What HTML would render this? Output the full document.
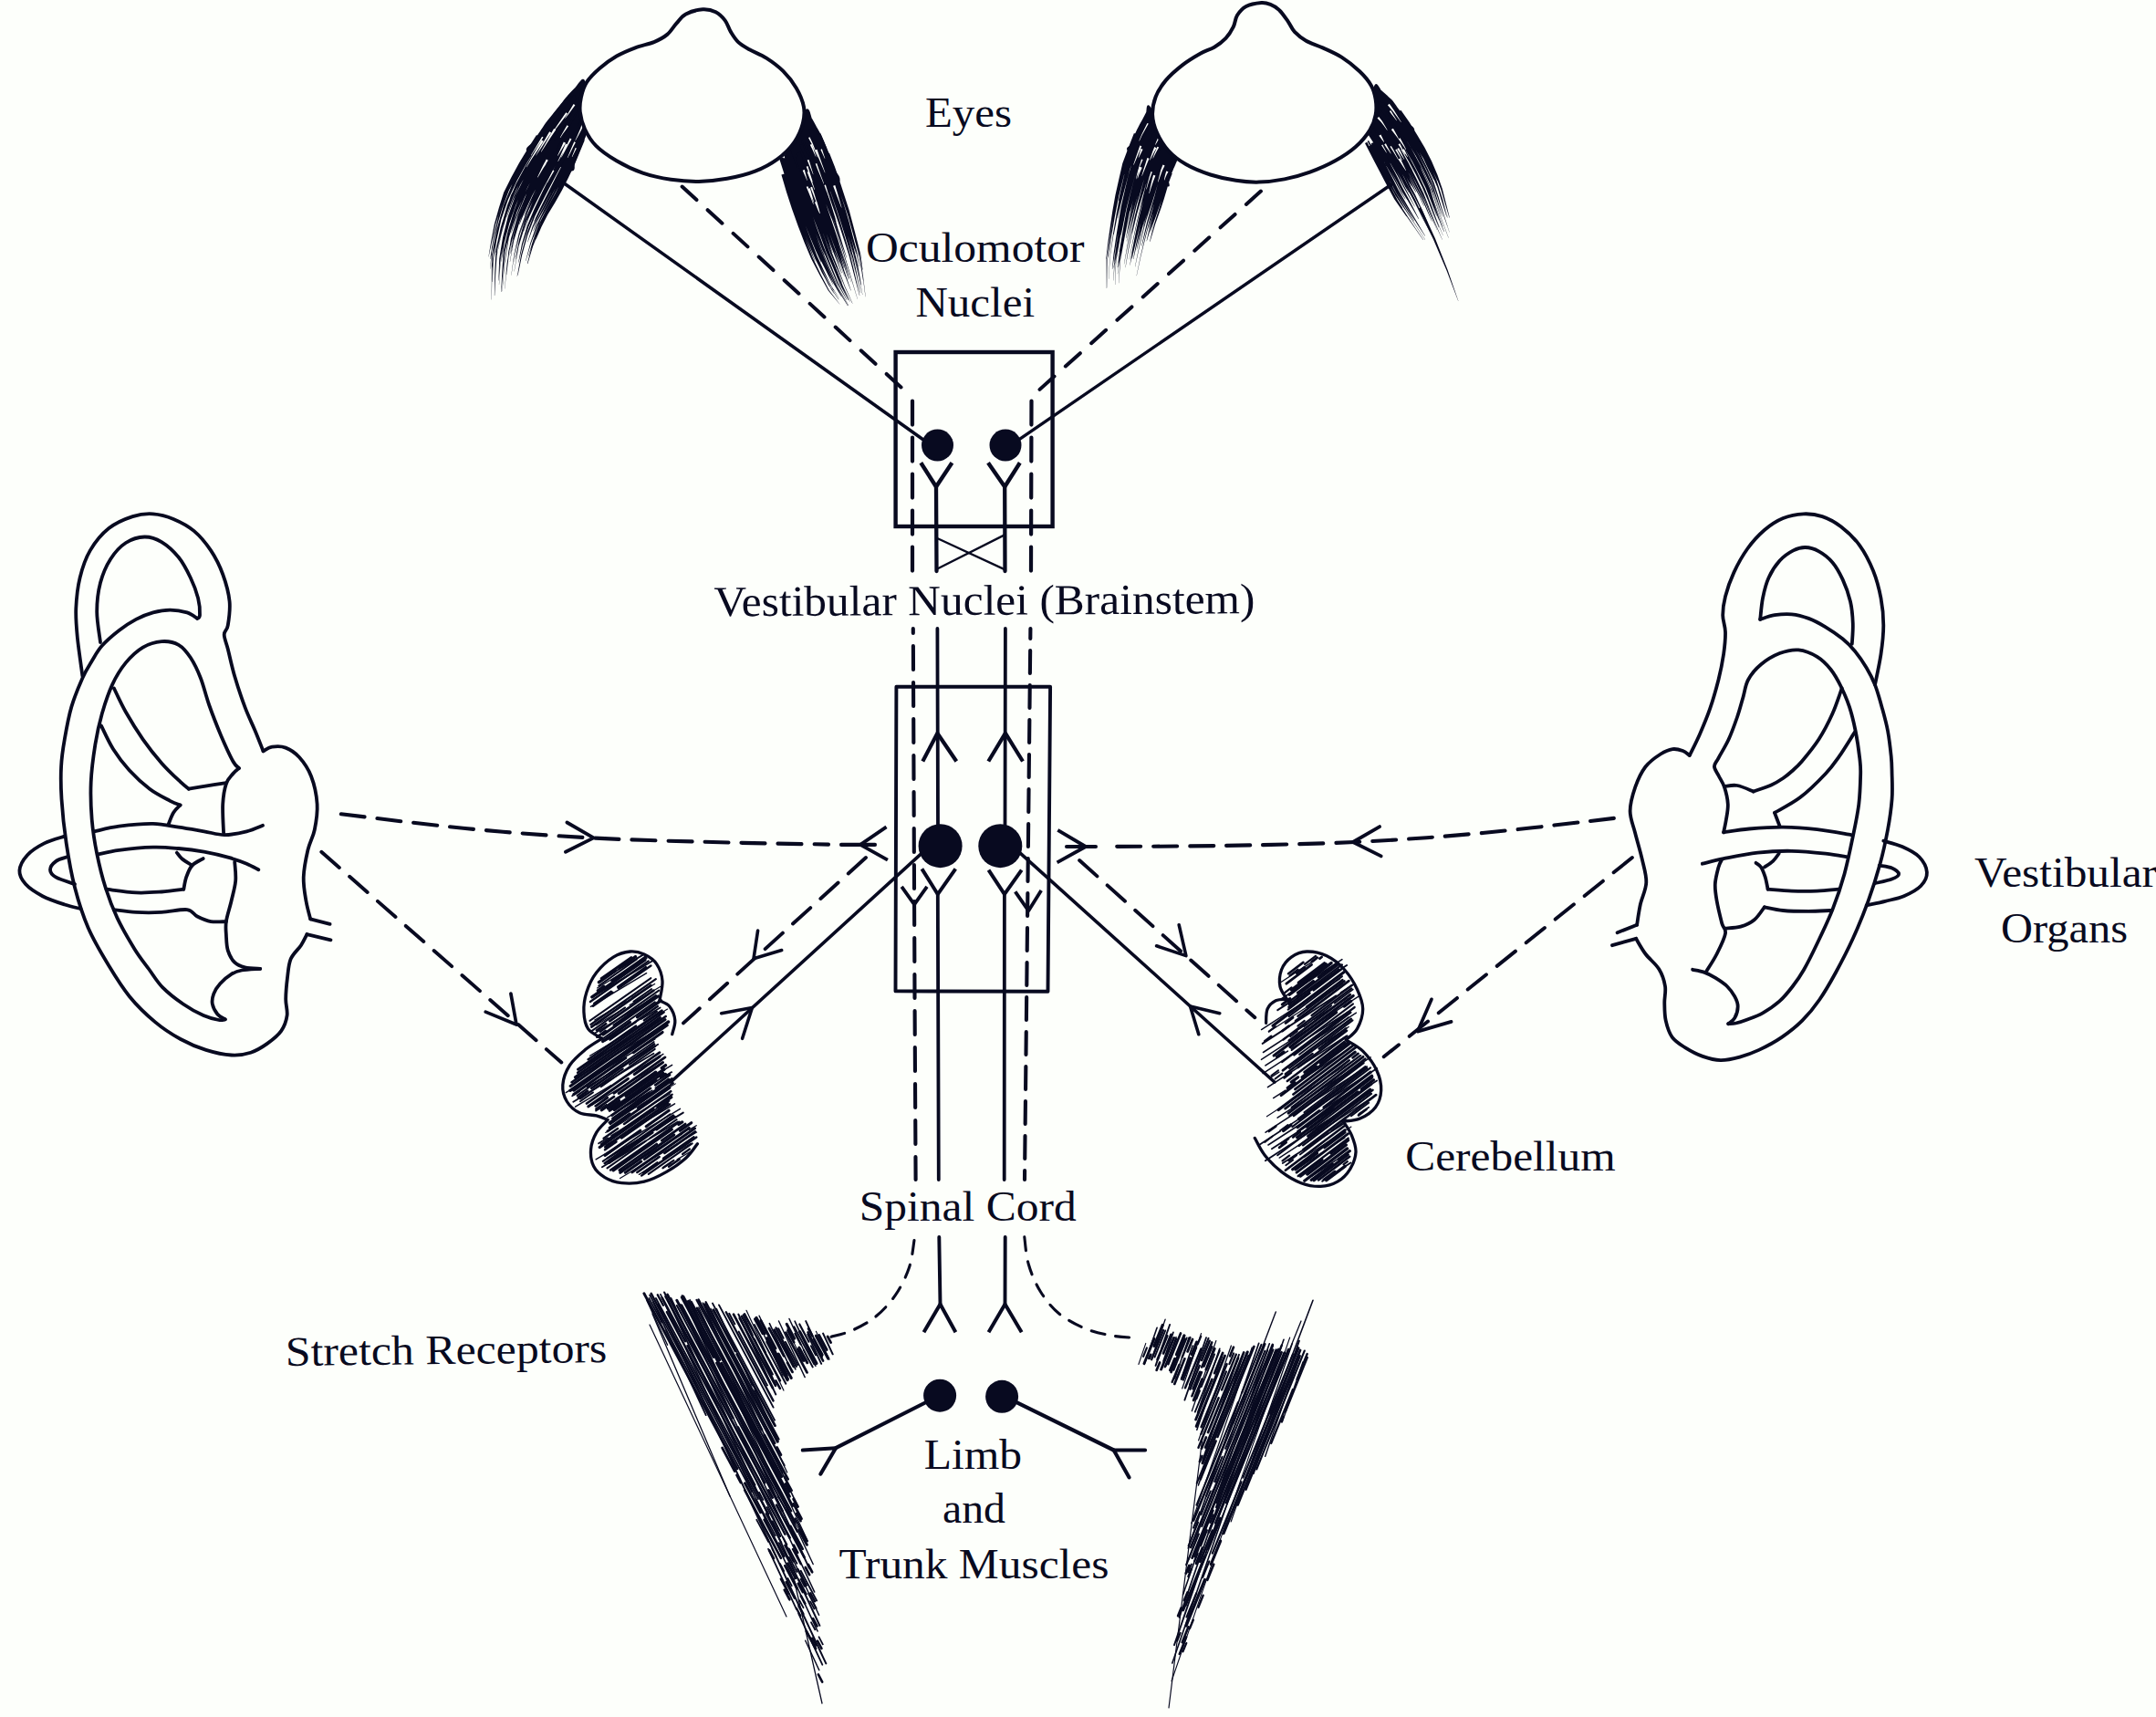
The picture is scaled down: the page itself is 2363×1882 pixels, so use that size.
<!DOCTYPE html>
<html lang="en"><head><meta charset="utf-8"><title>Vestibular pathways</title>
<style>
html,body{margin:0;padding:0;background:#fdfffb;}
body{width:2363px;height:1882px;overflow:hidden;}
svg{display:block;}
</style></head><body>
<svg width="2363" height="1882" viewBox="0 0 2363 1882">
<rect width="2363" height="1882" fill="#fdfffb"/>
<path d="M640 88C638.4 85.1 632.6 94.7 630.9 96.5C629.1 98.2 624 103.7 622.4 105.6C620.8 107.4 616.2 113.3 614.6 115.3C613.1 117.2 608.4 123.1 606.8 125C605.3 126.9 600.5 132.7 599 134.7C597.6 136.7 593.5 143 592.1 145C590.7 147.1 586.7 153.4 585.3 155.5C584 157.6 574.5 162.8 578.5 165.9C582.6 169 620.7 185.3 625.8 186.6C630.8 187.9 628.4 180.6 629 179.1C629.7 177.6 631.5 173.1 632.1 171.5C632.7 170 634.5 165.5 635.2 164C635.8 162.5 637.6 157.9 638.2 156.4C638.8 154.9 640.8 150.4 641.3 148.8C641.8 147.3 642.9 142.5 643.2 140.9C643.6 139.3 644.7 134.5 645.1 133C645.5 131.4 647.5 129.5 647 125C646.5 120.5 641.6 90.9 640 88Z" fill="#080a20" stroke="#080a20" stroke-width="1.5" stroke-linecap="round" stroke-linejoin="round"/>
<path d="M588 148L578.3 163.2L568.9 178.7L560.2 194.7L552.1 210.9L546.7 228.3L541.8 245.7L538.4 263.5L535.4 281.4L535.6 281.4L539.4 263.7L543.2 246.1L548.5 228.8L554.2 211.8L562.5 195.9L571.5 180.3L581.1 165L591.1 150ZM619.9 107.9L604.7 127.4L590.6 147.6L577.3 168.5L565.1 190L553.9 212.1L546.4 235.7L540.9 259.7L537.2 284L537.5 284.1L541.9 259.9L547.9 236.1L555.7 212.8L567.1 191.1L579.6 169.9L593.1 149.4L607.5 129.4L622.8 110.2ZM624.6 104.5L607.5 126.8L591.5 150L576.4 173.9L562.8 198.6L552 224.7L544.4 251.8L538.9 279.4L538.8 307.6L539.1 307.6L539.8 279.6L545.7 252.1L553.7 225.2L564.6 199.5L578.4 175.1L593.7 151.5L610 128.6L627.2 106.5ZM600.6 137.5L588.3 157L576 176.7L564.9 197.1L555.3 218.2L548.1 240.2L543.1 262.9L539.9 285.7L539.6 308.9L539.9 308.9L540.7 285.8L544.3 263.1L549.4 240.6L556.9 218.8L566.6 198L577.9 177.8L590.4 158.4L602.9 138.9ZM603.8 136.8L590.5 158L577.4 179.5L565.4 201.8L556 225.1L548.8 249.2L543.5 273.8L542.3 298.8L541.9 323.9L542.2 323.9L543.3 298.9L545 274L550.8 249.7L558.3 225.9L568 203L580.2 181.2L593.5 159.9L607.1 138.9ZM609.7 130.8L603.6 139.2L598.1 148.1L592.7 157L587.4 165.8L581.9 174.7L576.9 183.8L572.1 193.1L567.3 202.3L567.5 202.4L572.8 193.4L577.9 184.4L583.2 175.5L588.8 166.8L594.4 158L600 149.3L605.6 140.6L611.9 132.4ZM629.4 105.7L618.5 121.1L607.4 136.4L597.2 152.5L587.3 168.8L577.8 185.3L568.8 202.2L561.4 219.6L555.3 237.7L555.6 237.8L562.3 220L570.2 202.8L579.5 186.2L589.3 170L599.4 153.9L609.8 138.1L621.2 123L632.3 107.8ZM612 132.4L599 152.3L586.8 172.7L575.2 193.5L564.7 214.9L556.7 237.4L551 260.4L547.2 283.7L546.4 307.4L546.7 307.4L548.3 283.9L552.5 260.7L558.7 238L567 215.9L577.8 194.9L589.6 174.3L602.1 154.2L615.3 134.6ZM615.7 130.6L603.8 148.4L592.9 166.9L582.1 185.5L571.9 204.5L563.7 224.4L556.9 244.7L551.9 265.6L549.2 286.7L549.5 286.8L552.8 265.8L558.2 245.1L565.3 225L573.8 205.4L584.1 186.7L595.2 168.3L606.3 150L618.4 132.4ZM603.8 151.7L592.5 171.1L581.5 190.8L571 210.8L563.1 231.9L556.7 253.4L551.8 275.3L550.3 297.6L549.2 319.9L549.5 320L551.4 297.7L553.5 275.6L558.8 253.9L565.6 232.8L573.7 212L584.5 192.4L595.8 173L607.4 153.8ZM623.6 124.3L614.8 137.3L606.4 150.6L598.5 164.4L590.5 178L582.9 192L575.5 206L569.3 220.5L563.9 235.4L564.2 235.5L570.1 220.9L576.6 206.5L584.2 192.7L592 178.9L600.2 165.4L608.3 151.8L616.9 138.7L625.9 125.8ZM606.4 153.9L599.6 166L592.6 178.1L586 190.5L579.5 202.9L573.5 215.6L568.5 228.7L563.8 241.8L560.3 255.2L560.6 255.3L564.7 242.1L569.8 229.2L575.1 216.3L581.4 203.9L588.2 191.7L595 179.6L602.3 167.6L609.4 155.6ZM634.4 112.9L621 134.6L607.5 156.7L594.7 179.3L582.4 202.3L571.7 225.9L563.2 250.4L557.3 275.6L554.9 301.3L555.2 301.3L558.2 275.8L564.4 250.7L573.2 226.6L584.1 203.1L596.6 180.3L609.7 158L623.4 136.1L637 114.5ZM605.5 162.7L598.9 174.5L592.3 186.4L586.1 198.5L579.8 210.6L574.6 223.2L569.7 235.7L565.5 248.6L562.2 261.7L562.5 261.8L566.4 248.9L571 236.2L576.3 223.9L581.7 211.5L588.3 199.7L594.8 187.8L601.7 176.1L608.5 164.4ZM611.8 152.7L603.6 167.7L595.2 182.6L587.2 197.8L579.4 213.1L573 228.9L567.1 244.9L562.6 261.4L559.4 278.1L559.7 278.1L563.5 261.6L568.3 245.3L574.5 229.6L581.2 214L589.3 198.9L597.5 183.9L606.1 169.2L614.6 154.3ZM607.5 162.8L602.2 172.9L596.6 183L591.3 193.3L586.1 203.6L581 213.9L576.7 224.6L572.5 235.3L569 246.1L569.3 246.2L573.6 235.7L578.3 225.3L583 214.9L588.5 204.8L594 194.7L599.6 184.7L605.6 174.8L611.3 164.9ZM633.6 122L626.1 135.9L617.8 149.7L610.2 163.9L602.5 178.1L594.8 192.4L587.4 206.8L580.6 221.4L574.4 236.3L574.7 236.4L581.4 221.7L588.4 207.3L596.1 193L604 178.9L611.9 164.9L619.8 150.8L628.2 137.2L636 123.3ZM622.3 145.6L616.7 155.7L611.5 166L606.2 176.3L600.7 186.4L595.5 196.8L590.3 207.2L585.3 217.6L580.9 228.3L581.2 228.4L586.2 218.1L591.6 207.9L597.1 197.7L602.7 187.5L608.5 177.5L614.1 167.4L619.6 157.2L625.4 147.3ZM633.7 125.7L623.7 144.6L613.4 163.8L603.3 183L593.2 202.4L583.7 222.1L575.2 242L568.9 262.9L565 284.1L565.3 284.1L570 263.2L576.8 242.6L585.6 222.9L595.5 203.6L605.8 184.4L616.3 165.3L626.9 146.4L637.2 127.6ZM632.9 131L625 145.9L617 160.9L609.4 176.1L601.3 191.2L593.5 206.5L586.1 221.9L579.2 237.5L573.8 253.6L574 253.7L580 237.8L587.3 222.5L595 207.3L603.1 192.2L611.4 177.2L619.4 162.1L627.6 147.3L635.7 132.5ZM631.8 137L622.2 155L613.2 173.6L603.7 191.8L594.5 210.3L585.6 228.9L577.7 247.8L571.9 267.6L568.2 287.6L568.5 287.7L573 267.9L579.4 248.4L587.7 229.8L597 211.6L606.6 193.4L616.5 175.3L625.9 157L635.8 139.1ZM619 163L613.9 173.8L608.4 184.5L603 195.2L597.7 206L592.3 216.8L587.3 227.7L582.4 238.6L578.5 249.9L578.8 250L583.4 239L588.7 228.4L594.2 217.7L599.9 207.2L605.6 196.6L611.3 186L617.1 175.5L622.6 164.8ZM635.2 134.6L625.3 154.8L615.5 175.3L605.1 195.5L594.7 215.8L584.8 236.2L577 257.6L571.3 279.4L567.3 301.7L567.6 301.8L572.2 279.6L578.2 258L586.3 236.9L596.5 216.7L607.1 196.6L617.8 176.4L627.9 156.1L638.1 136ZM635.2 140.4L629.1 153.1L623 166L617.1 178.9L610.6 191.6L604.2 204.3L597.7 217L591.4 229.8L585.3 242.6L585.6 242.7L592.1 230.1L598.8 217.6L605.5 205L612.1 192.4L618.9 179.8L625.1 166.9L631.3 154.2L637.7 141.6ZM636 138.2L628.8 154L621.5 169.8L614 185.6L606.2 201.3L598.2 216.9L590.4 232.5L583.5 248.6L578.2 265.2L578.5 265.3L584.5 249L591.8 233.2L600 217.9L608.3 202.4L616.5 186.9L624.4 171.2L632 155.5L639.5 139.9ZM622.7 171.6L618.1 181.9L613.1 191.9L608.2 202.1L603.2 212.3L598 222.2L592.8 232.3L587.9 242.4L584.3 253.2L584.6 253.3L588.8 242.8L594.2 233L599.7 223.2L605.2 213.3L610.5 203.3L615.8 193.3L621.2 183.3L626 173.1ZM639.2 138.6L631.8 157.1L623.8 175.5L615.1 193.7L606.2 211.8L596.5 229.4L587.8 247.6L581.2 266.6L576.1 286L576.4 286.1L582 266.8L589 248L597.9 230.2L607.8 212.6L617 194.6L626 176.6L634.3 158.2L641.9 139.7ZM639.3 143.1L632.3 160.5L625.1 177.9L617 194.9L608.8 211.8L599.6 228.2L591 245L584.4 262.7L579.1 280.7L579.4 280.8L585.2 262.9L592.1 245.5L601 229L610.5 212.7L619 195.8L627.4 178.9L634.9 161.6L642.1 144.2ZM639.9 141.5L633 160.3L625.6 178.8L617.1 196.9L608.3 214.8L598.4 232.3L589.9 250.5L583 269.4L577.9 288.8L578.2 288.9L584.2 269.8L591.6 251.2L600.5 233.4L610.9 216.2L620.2 198.4L629.1 180.3L637 161.8L644.2 143.1ZM638.3 152.5L632.7 166.7L627.1 180.8L620.7 194.5L614.1 208.2L606.9 221.5L599.2 234.6L592.7 248.3L587.2 262.5L587.5 262.6L593.4 248.7L600.3 235.2L608.2 222.2L615.7 209L622.6 195.4L629.2 181.7L635.1 167.6L640.9 153.6ZM581.2 163.6L569.3 183.6L558 204.2L550 226.1L543.6 248.6L538.9 271.5L537.3 294.7L537.5 294.7L539.4 271.6L544.4 248.8L551 226.5L559.3 204.8L570.7 184.5L582.9 164.6ZM597.1 159.1L583.2 182.5L570.2 206.6L560.3 232L552.9 258.1L548.3 284.9L546.9 312L547.1 312L548.7 284.9L553.5 258.3L561.1 232.3L571.2 207.1L584.3 183.2L598.5 159.9ZM598 150L585.7 170.1L574 190.6L563 211.5L555.3 233.8L549.2 256.5L544.6 279.5L544.8 279.6L549.6 256.6L555.9 234L563.8 211.9L574.9 191.1L586.8 170.8L599.3 150.8ZM609.2 168.2L597.7 189.2L586.5 210.6L576.8 232.4L568.9 254.9L563.5 278.1L560.3 301.7L560.5 301.7L563.9 278.2L569.6 255.1L577.6 232.7L587.5 211L598.8 189.9L610.5 168.9ZM639.6 141.9L631.3 161.9L622.8 181.9L613.1 201.4L603 220.7L592.5 239.8L584.6 260L584.8 260.1L592.9 239.9L603.5 221L613.8 201.8L623.8 182.4L632.5 162.4L641 142.5ZM633.4 116.7L617.9 142.2L602.8 168.3L588.1 194.8L574.9 222.1L564.6 250.4L558 279.7L558.2 279.7L565 250.5L575.5 222.3L588.9 195.3L603.8 168.9L619.1 142.9L634.8 117.5ZM633.3 125.4L619 151L605.1 177.1L591.1 203.4L578.5 230.2L568.7 258.1L562.9 286.9L563.1 286.9L569.2 258.2L579.3 230.6L592.1 203.9L606.4 177.8L620.5 151.8L635.2 126.5ZM631.6 167.9L622.9 188.3L613.2 208.2L602.5 227.6L592.2 247.2L584.2 267.9L578.1 289.2L578.3 289.3L584.7 268.1L592.9 247.5L603.3 228L614.4 208.8L624.4 188.9L633.3 168.6ZM629.2 103.9L609.7 129.9L591.7 157L574.9 185L560 214.1L550 245.1L542.9 276.9L543.1 276.9L550.5 245.2L560.8 214.4L575.9 185.6L592.9 157.8L611.2 130.9L630.8 105.2ZM612 177.9L604.5 192L597.3 206.3L590.2 220.5L583.4 234.9L577.7 249.7L572.9 264.9L573.1 265L578.1 249.9L584.1 235.3L591.1 221L598.5 206.9L605.9 192.7L613.6 178.7ZM609.7 158.6L598.4 178.9L587.5 199.5L577.4 220.5L568.8 242.1L562.5 264.4L558.8 287.1L559 287.2L563 264.5L569.7 242.4L578.5 221L588.8 200.2L600.1 179.8L611.6 159.7ZM601.8 135.1L583.1 164.3L565.6 194.3L552 226.2L543.1 259.7L539 293.9L538.6 328.6L538.8 328.6L539.5 294L544 259.8L553.1 226.5L567 195L584.6 165.2L603.6 136.3ZM620.8 163.8L609.6 186.2L598.1 208.7L587 231.1L577.8 254.4L571.3 278.5L566.7 303L566.9 303.1L571.8 278.6L578.5 254.7L588 231.6L599.5 209.3L611.2 187L622.7 164.7ZM606.2 152.2L591.2 178L577 204.4L565.5 231.9L557 260.4L552.5 289.6L550.4 319.2L550.6 319.2L553 289.7L557.8 260.6L566.5 232.3L578.3 205L592.7 178.9L608 153.3ZM605.1 160.8L591.3 184.9L578.3 209.6L567.8 235.3L559.9 261.8L555.6 289L553.1 316.5L553.3 316.5L556 289L560.6 262L568.7 235.6L579.4 210.1L592.7 185.7L606.7 161.7ZM626.9 142L613.5 166.8L600.3 191.8L587.4 217L576.1 242.8L568.1 269.8L563.5 297.4L563.7 297.5L568.5 269.9L576.8 243.1L588.3 217.5L601.4 192.4L614.9 167.6L628.5 142.9Z" fill="#080a20"/>
<path d="M593.7 153.5L588 163.3L582.3 173L576.9 183L577.2 183.2L583.2 173.6L589.5 164.2L595.8 154.8ZM624.7 151.6L621.4 158.4L618.2 165.4L615.1 172.3L615.4 172.5L619.1 165.8L622.7 159.1L626.5 152.6ZM598.8 174.6L596.8 178.6L594.9 182.5L593 186.6L593.4 186.8L595.8 183.1L598.3 179.4L600.8 175.8ZM594.1 149.7L590.1 156.5L586.1 163.3L582 170L582.4 170.2L586.8 163.7L591.1 157.2L595.5 150.6ZM620 157.5L617.1 164L614.3 170.4L611.4 176.8L611.8 177L615.2 170.9L618.7 164.8L622.2 158.7ZM628.6 113.9L625.5 119.2L622.4 124.4L619.2 129.5L619.5 129.7L623.3 124.9L626.9 120L630.4 115.2ZM620.3 123.2L614.5 131.7L608.7 140.2L603.4 149.1L603.8 149.3L609.6 140.8L615.8 132.7L622 124.5ZM596.8 178.3L594.1 183.6L591.5 188.9L589 194.3L589.4 194.5L592.4 189.4L595.5 184.3L598.7 179.4ZM607.1 141L602.3 149.3L597.6 157.7L592.9 166.2L593.3 166.4L598.6 158.3L603.8 150.2L609.2 142.3ZM629.3 155.3L626.8 161.1L624.3 167L621.8 172.9L622.2 173.1L625.1 167.4L627.9 161.7L630.9 156ZM602.2 144.2L597.2 152.9L592.2 161.6L587.2 170.4L587.5 170.6L593.1 162.2L598.7 153.8L604.2 145.4ZM606 186.5L603.8 191.1L601.6 195.7L599.5 200.3L599.8 200.5L602.3 196.1L604.9 191.6L607.4 187.2ZM621.5 137.2L618.9 141.7L616.3 146.2L613.8 150.7L614.2 150.9L617.1 146.6L620.1 142.4L623.1 138.2ZM617.8 155.6L615.6 160.6L613.4 165.6L611.1 170.6L611.5 170.8L614.3 166.1L617.1 161.4L620 156.7ZM630.6 161.9L629.4 165.2L628.1 168.5L626.8 171.8L627.2 172L628.8 168.8L630.4 165.6L631.9 162.5ZM638.2 134.5L636.1 141.1L633.3 147.5L630.4 153.9L630.8 154.1L634.2 147.9L637.5 141.7L640.1 135.2Z" fill="#fdfffb"/>
<path d="M883.9 120.3C886.7 117.8 888.1 127.9 889.1 129.8C890.2 131.7 893.3 137.4 894.3 139.3C895.4 141.2 898.6 146.8 899.5 148.7C900.5 150.7 903 156.7 903.8 158.7C904.6 160.7 907 166.7 907.8 168.7C908.6 170.7 911 176.7 911.8 178.8C912.6 180.8 915.1 186.8 915.8 188.8C916.6 190.8 922.1 195.1 919.2 199.1C916.4 203 890.7 226.1 887.2 228.1C883.7 230.1 884.7 220.7 884.1 218.9C883.5 217.1 881.4 211.6 880.8 209.8C880.2 208 878.3 202.5 877.7 200.6C877 198.8 875.3 193.2 874.7 191.4C874.1 189.6 872.2 184 871.6 182.2C871 180.4 868.9 175 868.3 173.2C867.6 171.4 865.6 165.9 864.9 164.1C864.2 162.3 859.7 159.5 861.6 155.1C863.5 150.7 881.1 122.8 883.9 120.3Z" fill="#080a20" stroke="#080a20" stroke-width="1.5" stroke-linecap="round" stroke-linejoin="round"/>
<path d="M906.2 168.6L912.5 184L918.2 199.6L923.5 215.4L928.9 231.1L933.5 247.1L938 263.2L942.5 279.2L945.2 295.7L945.5 295.6L943.3 279.1L939.2 262.9L935 246.7L930.7 230.6L925.6 214.7L920.4 198.8L915 183L908.9 167.5ZM895.4 148.1L902.1 162.8L908.3 177.7L914.3 192.8L919.6 208.1L925 223.4L930.1 238.7L934.6 254.3L939.3 269.9L939.6 269.8L935.7 254L931.8 238.3L927.1 222.7L922.2 207.2L917.3 191.7L911.6 176.4L905.8 161.2L899.4 146.3ZM900.3 165.9L906.6 181.3L912.6 196.8L918.1 212.6L923.6 228.3L928.7 244.2L933.3 260.2L938.1 276.1L941.8 292.3L942.1 292.2L939.1 275.8L934.9 259.7L930.7 243.6L926 227.5L920.9 211.6L915.8 195.7L910 180L904.1 164.4ZM889.5 145.5L897.3 161.3L903.9 177.6L910.6 194L916.4 210.7L922.3 227.4L927.8 244.2L932.8 261.1L938.1 278L938.4 277.9L934 260.8L929.5 243.7L924.5 226.7L919.1 209.8L913.7 192.9L907.4 176.3L901.1 159.6L893.7 143.5ZM886.2 142.3L896.2 162.3L904.5 183.2L912.4 204.2L919.7 225.5L926.7 246.9L933.1 268.4L938.9 290.1L943.6 311.9L943.9 311.8L940 289.8L934.7 268L928.8 246.3L922.2 224.7L915.2 203.2L907.6 182L899.6 160.8L889.9 140.5ZM903.3 185.4L907.8 196.6L911.7 207.9L915.6 219.4L919.6 230.7L923.5 242.1L927 253.7L930.5 265.2L934.2 276.6L934.5 276.6L931.3 265L928.1 253.4L924.9 241.7L921.2 230.2L917.5 218.7L913.8 207.3L910.1 195.7L905.8 184.4ZM895.1 168.2L902.4 186.9L909.4 205.7L915.9 224.8L922.4 243.8L928.1 263L934.1 282.1L938.6 301.5L943 320.7L943.3 320.7L939.4 301.4L935.3 281.8L929.6 262.6L924.1 243.2L917.8 224.1L911.6 205L904.8 186L897.7 167.2ZM883.1 149.9L892.6 170.9L900.9 192.4L908.8 214.2L916.4 236.1L923.4 258.1L930.5 280L936.3 302.2L942 324.1L942.3 324L937.3 302L931.9 279.6L925.2 257.5L918.5 235.4L911.2 213.4L903.6 191.4L895.5 169.7L886.3 148.5ZM894.5 177.5L899 189L903.6 200.5L907.7 212.1L911.7 223.8L915.9 235.5L919.9 247.2L923.7 258.9L927.6 270.7L927.9 270.6L924.5 258.7L921.1 246.8L917.4 235L913.5 223.2L909.7 211.4L905.9 199.6L901.6 188L897.3 176.4ZM882 156L887.1 166.5L891.4 177.4L895.7 188.4L900.2 199.3L904.2 210.4L908.2 221.5L912.3 232.6L916.7 243.6L916.9 243.5L913.4 232.2L909.9 220.9L906.4 209.6L902.7 198.4L898.7 187.3L894.8 176.1L890.8 164.9L886 154.1ZM890.7 179.5L895.6 192.3L900.6 205L905.1 217.9L909.6 230.9L914.4 243.7L918.7 256.7L923 269.7L927.7 282.5L928 282.4L924 269.4L920.1 256.3L916.2 243.1L911.8 230.1L907.6 217.1L903.4 204L898.7 191.1L894.1 178.2ZM891.4 188.2L894.2 194.9L897 201.7L899.6 208.5L902.2 215.4L904.8 222.2L907.4 229.1L910.1 235.9L913 242.7L913.3 242.6L911.2 235.5L909.1 228.5L907.1 221.5L905 214.4L902.8 207.4L900.6 200.4L898.2 193.4L895.8 186.5ZM882.8 170.2L889 187.1L895.4 203.8L901.4 220.7L907.4 237.7L913.4 254.6L919.1 271.6L925.3 288.3L930.6 305.2L930.9 305.1L926.2 288L920.4 271.1L915.1 254L909.4 237L903.7 219.9L898.1 202.9L891.9 186L886 169.1ZM876.4 158.9L884.1 177L890.8 195.4L897.7 213.9L904.1 232.5L910.9 251L917.1 269.7L924 288.1L929.9 306.5L930.2 306.5L924.8 287.8L918.3 269.3L912.5 250.5L906 231.9L899.9 213.1L893.3 194.5L886.7 175.9L879.3 157.7ZM889.3 196.8L894 208.8L898.3 221L902.6 233.3L907.2 245.4L911.5 257.6L915.7 269.9L920.4 281.9L925 293.9L925.3 293.8L921.4 281.6L917.2 269.4L913.4 257L909.4 244.7L905.2 232.4L901.2 220.1L897.2 207.7L892.8 195.5ZM881.1 177.6L887.5 195.4L894.2 213L900.4 230.8L906.9 248.5L913 266.3L919.6 283.9L925.8 301.5L932.5 318.6L932.8 318.5L926.8 301.2L921 283.4L914.9 265.7L909.1 247.8L902.9 229.9L897.1 212L890.7 194.2L884.6 176.4ZM878.5 177.3L883.6 191.2L888.8 205.1L894 219.1L898.9 233.1L904.2 247L909.3 260.9L914.3 274.9L920 288.5L920.3 288.4L915.4 274.5L910.9 260.4L906.2 246.3L901.4 232.2L896.9 218.1L892.1 204L887.3 189.9L882.6 175.9ZM873.1 167.9L879.5 184.2L885.5 200.7L891.6 217.2L897.5 233.8L903.7 250.3L909.6 266.8L916 283.2L922.4 299.4L922.7 299.3L917 282.8L911.2 266.3L905.7 249.6L899.9 233L894.5 216.2L888.7 199.6L883.1 182.9L877 166.4ZM875.4 177.8L879.9 190.2L884.4 202.7L889.1 215.1L893.6 227.5L898 240L902.9 252.4L907.5 264.8L912.3 277.1L912.6 277L908.5 264.4L904.4 251.8L900 239.4L895.9 226.7L891.9 214.1L887.5 201.6L883.3 189L879.2 176.5ZM871.8 172.3L877.4 187.4L882.8 202.7L888.5 218L893.8 233.3L899.4 248.5L905.1 263.7L910.8 278.9L917.2 293.7L917.5 293.6L911.7 278.5L906.4 263.3L901 248L895.7 232.6L890.7 217.2L885.3 201.9L880.2 186.5L874.8 171.2ZM874.4 188.6L880.8 206.8L887.4 224.9L893.9 243.2L900.9 261.2L907.7 279.2L915.4 296.8L922.8 314.3L931.5 330.8L931.7 330.6L923.9 313.7L917.1 296.1L909.9 278.3L903.6 260.2L897.1 242L891.1 223.7L884.8 205.4L878.9 187.1ZM872.2 183.4L878.5 202.1L885.2 220.6L891.7 239.2L898.7 257.6L905.5 276.1L913.3 294.1L920.7 312L929.7 328.9L930 328.7L921.5 311.7L914.4 293.6L907 275.5L900.5 257L893.8 238.5L887.6 219.8L881.1 201.2L875.1 182.4ZM862.7 166.5L870.3 187L877.3 207.9L884.8 228.6L892.2 249.4L900.2 269.9L908.7 290.1L917.4 310.2L928 328.8L928.2 328.6L918.5 309.7L910.3 289.5L902.3 269.1L894.8 248.4L887.7 227.6L880.6 206.8L874 185.8L866.7 165.1ZM860.1 162.2L865.6 176.8L870.8 191.4L875.7 206.2L881.2 220.9L886.4 235.6L891.8 250.3L897.7 264.8L903.4 279.3L903.7 279.2L898.7 264.4L893.3 249.7L888.4 234.9L883.5 220L878.5 205.3L873.9 190.4L869 175.6L863.9 160.8ZM858.7 164.1L866.4 186L873.6 208.1L881.5 230.1L889.3 252.1L897.8 273.8L907.2 295.1L917.1 315.9L929.1 335.2L929.4 335.1L918 315.5L908.5 294.5L899.4 273.2L891.3 251.4L883.7 229.3L876.2 207.3L869.3 185L861.8 163ZM859.2 170.3L866.1 190.1L872.5 210.1L879.6 229.9L886.6 249.8L894.4 269.3L902.6 288.7L911.6 307.6L922.1 325.3L922.4 325.2L912.5 307.1L904 288.1L896.2 268.6L888.8 249L882.2 229L875.4 209.1L869.3 189L862.8 169.1ZM863.5 188.3L868.7 204.2L874.2 220.1L879.9 235.8L885.5 251.6L891.9 267.1L898.2 282.7L905.7 297.6L913.1 312.5L913.3 312.4L906.8 297.1L899.9 282L894.1 266.3L888.2 250.6L883 234.8L877.7 218.9L872.7 202.9L867.9 186.9ZM857.4 173.9L862.3 188.2L867 202.6L871.8 217L877.1 231.3L882.2 245.5L887.8 259.7L893.6 273.7L899.9 287.5L900.2 287.3L894.8 273.2L889.5 259L884.5 244.7L879.8 230.3L875 215.9L870.7 201.5L866.4 186.9L861.9 172.5ZM856.2 174.2L862.2 192.7L867.9 211.3L874.3 229.7L880.8 248.1L888 266.2L895.3 284.3L904.2 301.6L913.4 318.6L913.7 318.5L905 301.2L896.6 283.8L889.6 265.6L882.7 247.4L876.6 229L870.5 210.5L865 191.8L859.3 173.3ZM854.1 173.8L860 192.3L865.8 211L872.2 229.4L878.8 247.9L886 266L893.5 284.1L902.5 301.4L911.9 318.4L912.2 318.2L903.5 300.9L895.2 283.3L888.2 265.2L881.4 246.9L875.3 228.4L869.4 209.8L864 191.1L858.5 172.4ZM859 195L862.6 206.7L866.3 218.4L870.4 229.9L874.6 241.3L878.7 252.8L883.4 264.1L888.3 275.3L893.2 286.5L893.5 286.4L889.2 274.9L884.9 263.6L880.6 252.1L876.8 240.6L873.1 228.9L869.2 217.4L866 205.7L862.7 193.9ZM856.4 191.5L861.9 210.3L868 229L874.6 247.5L881.6 265.8L889.3 283.9L898.3 301.3L907.8 318.5L920.3 333.6L920.5 333.4L908.6 318L899.6 300.7L891 283.1L883.7 265L877 246.6L870.8 228.1L865 209.4L859.7 190.6ZM889.3 217.3L896.1 237L903.4 256.6L910.4 276.2L918.3 295.4L925.8 314.4L934.2 332.7L934.4 332.6L926.3 314.2L919 295.1L911.4 275.9L904.6 256.1L897.6 236.5L891 216.7ZM887 171.2L896.8 197.2L906 223.4L915.2 249.6L923.8 275.9L931.9 302.2L939.8 327.9L939.9 327.8L932.3 302L924.5 275.7L916.1 249.2L907.2 222.9L898.2 196.6L888.7 170.6ZM910 179.6L918.7 203.2L926.8 227.1L934 251.3L940.7 275.5L945.2 300.3L948.5 325.2L948.7 325.2L945.7 300.2L941.5 275.4L935 251L928.2 226.7L920.3 202.7L911.9 178.9ZM875.3 231L881.3 247.9L887.8 264.5L894.5 281L902.3 297L910.2 312.9L920.1 327.5L920.2 327.4L910.7 312.7L903 296.7L895.5 280.6L889.1 264L882.9 247.3L877.2 230.4ZM878.2 155.1L888.7 180.3L898.3 206L907.2 232L916.2 257.9L925 283.8L933 309.6L933.2 309.6L925.4 283.7L916.8 257.7L908 231.7L899.4 205.6L889.9 179.8L879.6 154.5ZM869 218.9L875.7 237.9L882.6 256.9L890.3 275.6L898.7 294L907.9 311.9L919.1 328.4L919.3 328.3L908.3 311.6L899.3 293.6L891.2 275.2L883.8 256.5L877.2 237.4L870.8 218.3ZM900.7 172.1L910.3 196.7L918.7 221.6L926.9 246.7L934.3 271.9L940.3 297.4L945.2 323L945.4 322.9L940.8 297.3L934.9 271.7L927.8 246.4L919.8 221.3L911.6 196.2L902.2 171.5ZM892.1 169L900.8 191.4L908.9 214L916.8 236.7L924 259.6L931.4 282.4L937.3 305.3L937.5 305.3L931.9 282.2L924.8 259.3L917.8 236.4L910.2 213.6L902.3 190.9L893.9 168.3ZM886.4 143.1L898.3 168.6L908.7 194.8L917.7 221.5L926.5 248.3L934.5 275.3L940.8 302.6L941 302.5L935 275.1L927.2 248L918.7 221.1L909.9 194.3L899.8 167.9L888.1 142.3ZM876.1 209.2L883.9 230.9L891.6 252.6L899.9 274L909.1 295L918.6 315.7L929.9 334.9L930.1 334.8L919 315.5L909.7 294.8L900.8 273.7L892.7 252.2L885.2 230.4L877.7 208.7ZM903.5 164.5L912.8 187.6L921 211.2L928.9 234.8L935.6 258.8L941.9 282.8L946 307.4L946.2 307.3L942.3 282.8L936.2 258.6L929.7 234.5L921.9 210.8L914 187.2L904.9 163.9ZM873.4 184.5L880.6 205.8L888.2 227L895.7 248.2L903.6 269.2L912 290L920.4 310.6L920.6 310.5L912.4 289.8L904.2 269L896.6 247.9L889.3 226.6L881.9 205.3L874.9 184ZM855.9 176.8L863.5 201.7L871.5 226.6L880.1 251.2L889.8 275.4L900.9 299L913.6 321.6L913.8 321.5L901.2 298.8L890.4 275.2L880.9 250.9L872.5 226.2L864.8 201.3L857.4 176.4ZM894.5 168.7L902.9 190.1L910.7 211.6L918.2 233.3L925.1 255.1L931.9 277L937.6 299L937.7 299L932.4 276.8L925.9 254.9L919.3 232.9L912.1 211.2L904.6 189.5L896.5 168ZM888.4 200.2L894.7 217.3L900.7 234.6L907.1 251.8L912.9 269L919.4 286L925.4 303.1L925.6 303L919.9 285.9L913.6 268.8L908 251.5L901.8 234.2L896.1 216.9L890 199.6ZM887.2 214.2L892.8 230.3L898.6 246.4L904.5 262.4L910.4 278.4L917 294L922.9 309.7L923.1 309.7L917.4 293.8L911.1 278.1L905.4 262.1L899.7 246L894.2 229.9L888.8 213.7Z" fill="#080a20"/>
<path d="M893.3 221.3L895 225.5L896.8 229.7L898.5 233.9L898.8 233.8L897.7 229.4L896.5 225.1L895.3 220.7ZM884.6 188.6L887.2 195.1L889.9 201.5L892.6 207.9L893 207.8L890.8 201.2L888.7 194.5L886.7 187.9ZM883.7 204.8L886.3 211.1L888.9 217.5L891.3 223.9L891.7 223.8L889.7 217.2L887.6 210.7L885.5 204.2ZM883.7 182.7L885.9 188.3L888.1 193.9L890.4 199.5L890.8 199.4L888.9 193.6L887.2 187.9L885.4 182.1ZM887.8 158.8L890 162.9L891.9 167.2L893.8 171.5L894.2 171.4L892.8 166.9L891.4 162.3L889.6 157.9ZM886 151.1L889.7 158.1L893 165.3L896 172.6L896.4 172.5L893.8 165L890.9 157.5L887.5 150.3ZM885.5 207.1L887.6 212L889.7 216.9L891.8 221.9L892.1 221.7L890.7 216.6L889.3 211.4L887.8 206.3ZM879.7 186.8L881.3 190.5L882.9 194.1L884.4 197.8L884.8 197.7L883.8 193.8L882.8 190L881.8 186.1ZM888.2 205.5L891 212.4L893.7 219.4L896.3 226.4L896.7 226.3L894.5 219.1L892.4 211.9L890 204.8ZM884.7 175.6L886.8 180.8L889 186L891.1 191.2L891.4 191L889.8 185.7L888.1 180.3L886.5 175ZM893.7 179.5L896.6 186.9L899.7 194.2L902.7 201.5L903.1 201.3L900.4 193.9L897.8 186.4L895.2 179ZM893.6 164.6L897 172.8L900.5 181.1L904 189.3L904.4 189.2L901.4 180.7L898.4 172.3L895.5 163.8ZM913.1 203.7L916.1 211.7L919.1 219.6L922.1 227.6L922.5 227.5L920.1 219.3L917.7 211.1L915.3 202.9ZM903.4 203L905.2 207.9L907.1 212.7L908.9 217.5L909.3 217.4L907.8 212.4L906.4 207.5L904.9 202.5ZM892.9 221.7L894.7 225.8L896.4 229.9L898.2 234L898.5 233.9L897.4 229.6L896.3 225.3L895.2 221ZM899.4 163.9L900.9 167.2L902.4 170.5L903.9 173.8L904.3 173.6L903.1 170.2L902 166.7L900.9 163.3Z" fill="#fdfffb"/>
<path d="M1260.1 117.4C1256.6 112.7 1257.6 122.1 1256.9 123.3C1256.3 124.5 1254.4 128.1 1253.8 129.3C1253.2 130.5 1251.3 134 1250.6 135.2C1250 136.4 1248.1 139.9 1247.5 141.1C1246.9 142.3 1245.2 146 1244.6 147.2C1244.1 148.4 1242.6 152.2 1242.1 153.5C1241.6 154.7 1240.1 158.4 1239.6 159.7C1239.1 160.9 1233.2 161.6 1237.1 165.9C1241 170.3 1274.6 199.6 1278.8 202.9C1283.1 206.2 1279.8 199.5 1280 198.6C1280.3 197.8 1281 195.2 1281.3 194.4C1281.6 193.6 1282.7 191.1 1283.1 190.3C1283.4 189.5 1284.5 187.1 1284.9 186.3C1285.2 185.4 1286.3 183 1286.7 182.2C1287 181.4 1288.1 178.9 1288.4 178.1C1288.8 177.3 1289.9 174.9 1290.2 174.1C1290.6 173.3 1295 175.7 1292 170C1289 164.3 1263.6 122.1 1260.1 117.4Z" fill="#080a20" stroke="#080a20" stroke-width="1.5" stroke-linecap="round" stroke-linejoin="round"/>
<path d="M1242.9 145.9L1236.5 162.4L1230.3 179.1L1226.3 196.5L1222.4 213.9L1219.3 231.4L1216.7 248.9L1214.2 266.5L1212.2 284.1L1212.5 284.2L1215.3 266.7L1218.3 249.2L1221.4 231.7L1224.9 214.4L1229.2 197.2L1233.5 180.1L1240 163.8L1246.8 147.4ZM1254.4 128L1248.1 140.2L1242.5 152.9L1237.5 165.7L1232.6 178.6L1229.5 192L1226.4 205.4L1223.4 218.9L1221.2 232.4L1221.5 232.5L1224.2 219L1227.6 205.7L1230.9 192.4L1234.3 179.1L1239.5 166.5L1244.7 153.8L1250.4 141.4L1256.9 129.3ZM1249.1 143.9L1245.1 153L1241.5 162.3L1238 171.6L1234.5 181L1232.4 190.7L1230.2 200.4L1228 210.1L1225.9 219.8L1226.2 219.9L1228.8 210.3L1231.3 200.7L1233.8 191.1L1236.3 181.5L1239.9 172.4L1243.7 163.2L1247.5 154L1251.6 145.1ZM1244.7 155.7L1240.1 167.9L1235.4 180.2L1232.4 192.9L1229.5 205.6L1226.6 218.3L1224.3 231.2L1222.4 244.1L1220.5 257L1220.8 257L1223.3 244.2L1225.7 231.4L1228.4 218.7L1231.7 206.2L1235 193.6L1238.3 181.1L1243.1 169.1L1248.1 157.1ZM1257.2 132.6L1250.9 145.1L1245.4 158L1240.5 171.2L1235.9 184.5L1232.8 198.2L1229.7 211.8L1226.8 225.5L1224.8 239.3L1225.1 239.4L1227.8 225.7L1231.3 212.2L1234.9 198.7L1238.4 185.2L1243.3 172.2L1248.5 159.3L1254.3 146.7L1260.9 134.5ZM1248 158.7L1241.8 175.1L1236.7 191.9L1232.7 208.9L1228.8 225.9L1225.9 243.2L1223.1 260.4L1220.6 277.7L1218.9 295L1219.2 295L1221.7 277.8L1224.6 260.6L1227.9 243.5L1231.1 226.4L1235.4 209.6L1239.8 192.7L1245.2 176.3L1251.6 160.1ZM1258.6 141L1250.1 158.9L1243.2 177.4L1237.7 196.4L1233.1 215.7L1229.1 235L1225.9 254.4L1222.9 273.9L1220.5 293.5L1220.8 293.5L1224 274.1L1227.5 254.7L1231.2 235.4L1235.6 216.2L1240.6 197.2L1246.4 178.5L1253.6 160.3L1262.3 142.8ZM1254.5 152.4L1247.9 168.8L1241.7 185.5L1237.6 202.7L1233.3 219.9L1229.9 237.3L1227 254.7L1224.2 272.1L1221.7 289.6L1222 289.7L1225.1 272.3L1228.3 254.9L1231.6 237.6L1235.3 220.4L1239.9 203.3L1244.3 186.3L1250.6 169.9L1257.5 153.7ZM1260.1 145.7L1253.8 158.9L1248.6 172.6L1243.6 186.3L1240.1 200.5L1236.6 214.7L1233.3 228.9L1230.8 243.3L1228.4 257.7L1228.7 257.7L1231.5 243.4L1234.4 229.2L1238 215.1L1241.7 201L1245.4 186.9L1250.6 173.3L1256 159.9L1262.5 146.9ZM1251.3 169.9L1246 184.8L1242 200.1L1238.1 215.4L1234.6 230.8L1231.8 246.3L1229.1 261.8L1226.7 277.4L1224.8 293L1225.1 293.1L1227.7 277.6L1230.6 262.1L1233.8 246.7L1236.9 231.3L1240.8 216.1L1245 200.9L1249.3 185.8L1254.9 171.2ZM1265.2 143.3L1256.9 160.3L1250.2 178L1244.6 196L1240 214.3L1235.8 232.6L1232.4 251.2L1229.2 269.7L1226.4 288.3L1226.7 288.3L1230.2 269.9L1233.9 251.4L1237.7 233.1L1242.3 214.9L1247.2 196.8L1253.1 179L1260 161.6L1268.5 145ZM1265.3 147L1260.4 157L1256.1 167.2L1252.4 177.7L1248.7 188.2L1246 198.9L1243.4 209.6L1240.8 220.4L1238.4 231.2L1238.7 231.2L1241.7 220.6L1244.8 210L1247.7 199.4L1250.8 188.8L1254.7 178.5L1258.7 168.3L1263.3 158.3L1268.4 148.6ZM1260.1 161.1L1255.3 173.2L1251.1 185.5L1247.5 198L1244.3 210.6L1241.1 223.1L1238.4 235.8L1236.1 248.5L1233.9 261.3L1234.1 261.3L1236.9 248.7L1239.7 236.1L1242.8 223.5L1246.3 211.1L1249.7 198.6L1253.6 186.3L1258.1 174.3L1263.1 162.3ZM1267.1 151.1L1260.7 164.5L1255.5 178.4L1250.6 192.3L1247.1 206.7L1243.4 221L1240 235.4L1237.3 249.9L1234.7 264.4L1234.9 264.5L1238.1 250L1241.2 235.6L1244.9 221.4L1248.9 207.2L1252.6 193L1257.7 179.2L1263.1 165.5L1269.7 152.4ZM1270.5 147.8L1264.5 160.2L1259.1 172.9L1254.6 185.9L1250.7 199.1L1247.4 212.4L1244 225.7L1241.1 239.1L1238.7 252.6L1239 252.7L1242.1 239.3L1245.4 226.1L1249.3 212.9L1252.9 199.8L1257.2 186.8L1261.9 174L1267.6 161.6L1273.8 149.4ZM1262.8 169.9L1259 180.2L1255.5 190.8L1252.6 201.5L1250 212.2L1247.2 222.9L1244.7 233.6L1242.6 244.4L1240.7 255.3L1241 255.4L1243.7 244.7L1246.3 234L1249.4 223.4L1252.6 212.9L1255.6 202.3L1258.9 191.9L1262.6 181.6L1266.8 171.4ZM1262.1 173L1259.7 179.9L1257.5 187L1255.2 194L1253.5 201.2L1251.8 208.4L1250.1 215.6L1248.3 222.7L1246.7 229.9L1247 230L1249.4 223L1251.6 216L1253.9 209L1255.9 201.9L1258.1 194.9L1260.6 188.1L1263.2 181.2L1265.9 174.4ZM1269.4 163.4L1265.7 171.7L1262.5 180.3L1259.7 189L1257.1 197.6L1255 206.5L1252.8 215.3L1250.6 224L1248.6 232.8L1248.9 232.9L1251.7 224.3L1254.4 215.7L1257.1 207L1259.5 198.4L1262.6 189.9L1265.7 181.5L1269.1 173.2L1273.1 165.2ZM1273.8 159.3L1266.7 174.9L1261.1 191.1L1256.5 207.6L1252 224L1247.8 240.5L1244.3 257.2L1241 273.9L1238.3 290.7L1238.5 290.7L1242.1 274.1L1245.9 257.6L1249.8 241L1254.5 224.7L1259.3 208.4L1264.3 192.2L1270.1 176.3L1277.5 161.1ZM1275.3 158.4L1268.4 173.2L1262.9 188.7L1258.3 204.3L1254.1 220.1L1249.9 235.8L1246.4 251.7L1243.2 267.6L1240.3 283.6L1240.6 283.7L1244.3 267.9L1248.1 252.1L1252.1 236.4L1256.7 220.8L1261.3 205.2L1266.3 189.8L1272.1 174.8L1279.2 160.3ZM1276 162.7L1269.5 177.1L1264.3 192.1L1259.9 207.2L1255.8 222.4L1251.6 237.6L1248.2 253L1244.9 268.4L1242 283.9L1242.3 284L1245.9 268.6L1249.6 253.4L1253.5 238.1L1258 223.1L1262.5 208L1267.1 193L1272.5 178.3L1279.3 164.2ZM1275.1 168.3L1269.6 180.9L1265.4 194L1261.7 207.1L1258.1 220.3L1254.4 233.4L1251.2 246.7L1248.4 260L1245.7 273.4L1246 273.5L1249.4 260.3L1252.7 247.1L1256.3 234L1260.4 221L1264.4 207.9L1268.4 194.9L1272.9 182.2L1278.7 169.9ZM1278.7 164.4L1274.1 174.4L1269.9 184.7L1266.7 195.3L1263.7 205.9L1261 216.6L1258 227.2L1255.1 237.8L1252.8 248.6L1253 248.7L1256.1 238.1L1259.4 227.6L1262.8 217.1L1266 206.6L1269.3 196.1L1272.8 185.8L1277.3 175.8L1282.1 166ZM1280.9 163.2L1276.6 172.7L1272.5 182.3L1269.2 192.3L1266.2 202.3L1263.7 212.4L1260.9 222.4L1258.1 232.4L1255.6 242.5L1255.9 242.6L1259.1 232.7L1262.4 222.9L1265.5 212.9L1268.5 203L1271.7 193.1L1275.3 183.5L1279.7 174.1L1284.2 164.8ZM1283 164.9L1277.4 177.4L1272.3 190.2L1268.4 203.4L1264.9 216.6L1261 229.7L1257.2 242.9L1254.1 256.3L1251.1 269.6L1251.4 269.7L1255 256.5L1258.5 243.3L1262.6 230.2L1266.9 217.2L1270.7 204.1L1274.8 191.1L1280.1 178.6L1286 166.2ZM1283.8 165.1L1280.5 173.1L1277.1 181L1273.8 189.1L1271.5 197.5L1269.3 205.8L1267.3 214.1L1265.1 222.4L1262.9 230.8L1263.2 230.9L1266.2 222.8L1269 214.6L1271.5 206.4L1274.2 198.2L1276.8 190.2L1280.4 182.4L1284.1 174.7L1287.8 167ZM1282.1 173.6L1278 182.8L1274.4 192.3L1271.7 202.1L1269.2 211.8L1266.5 221.5L1263.7 231.1L1260.9 240.8L1258.6 250.6L1258.8 250.6L1261.8 241.1L1265.1 231.6L1268.3 222L1271.3 212.4L1274.2 202.8L1277.2 193.3L1281.1 184.1L1285.3 175.1ZM1281.9 177.6L1277.5 188L1274 198.9L1271.1 209.8L1268.2 220.7L1265 231.4L1261.8 242.3L1259 253.2L1256.6 264.2L1256.9 264.3L1260.1 253.5L1263.3 242.7L1267 232.1L1270.7 221.4L1274 210.6L1277.2 199.9L1280.9 189.4L1285.6 179.2ZM1281.5 182.3L1277.9 191L1275.3 200.1L1272.9 209.1L1270.7 218.1L1268.1 227L1265.4 235.9L1262.8 244.8L1260.8 253.9L1261.1 254L1263.9 245.2L1267.1 236.4L1270.2 227.7L1273.3 218.9L1276 209.9L1278.7 201.1L1281.6 192.4L1285.5 184ZM1282 189.1L1278.7 198.4L1276.2 208L1273.7 217.5L1270.9 226.9L1267.9 236.3L1264.9 245.7L1262.4 255.2L1260.1 264.8L1260.4 264.9L1263.3 255.5L1266.1 246L1269.4 236.8L1272.7 227.5L1275.8 218.1L1278.6 208.6L1281.3 199.2L1284.8 190.1ZM1245.5 146.8L1234.9 173.7L1227.5 201.6L1221.6 229.8L1217.1 258.2L1213.1 286.8L1213.1 315.5L1213.3 315.5L1213.6 286.8L1217.8 258.3L1222.6 230L1228.9 201.9L1236.5 174.2L1247.3 147.6ZM1251.6 163.5L1242.8 187.3L1236.8 212L1231.3 236.7L1226.8 261.7L1222.9 286.7L1222 311.9L1222.2 311.9L1223.3 286.7L1227.5 261.8L1232.1 236.9L1237.8 212.2L1244.1 187.7L1253.1 164.1ZM1269.1 166.6L1261.7 185.5L1255.8 205.1L1250.4 224.7L1245.6 244.5L1241.4 264.4L1237.5 284.4L1237.7 284.4L1241.8 264.5L1246.2 244.6L1251.3 224.9L1256.9 205.4L1262.9 186L1270.6 167.2ZM1254.9 148.9L1246.5 169.3L1239.4 190.1L1234.2 211.5L1229.4 233L1225.7 254.7L1222.3 276.4L1222.4 276.5L1226.1 254.8L1230.1 233.2L1235.1 211.7L1240.5 190.5L1247.8 169.8L1256.4 149.6ZM1243.9 159.4L1235.1 182.8L1229.2 207.2L1224.1 231.6L1220 256.2L1216.4 280.9L1215.1 305.8L1215.3 305.8L1216.7 281L1220.6 256.3L1224.8 231.7L1230.2 207.4L1236.1 183.1L1245.1 159.9ZM1278.2 170.2L1270.1 189.8L1264.2 210.2L1258.2 230.6L1252.9 251L1248.1 271.7L1243.9 292.4L1244.1 292.5L1248.6 271.8L1253.6 251.2L1259.2 230.8L1265.4 210.6L1271.5 190.3L1279.8 170.9ZM1260.9 152.7L1251.4 175.4L1244.1 198.8L1238 222.5L1233.1 246.5L1228.8 270.6L1225.4 294.9L1225.6 294.9L1229.2 270.7L1233.7 246.6L1238.8 222.7L1245 199L1252.6 175.8L1262.2 153.3ZM1282.5 172.3L1273.9 193.2L1267.8 214.9L1261.1 236.5L1255.4 258.2L1250.1 280.2L1245.6 302.2L1245.8 302.2L1250.5 280.3L1256 258.4L1261.9 236.7L1268.8 215.2L1275.1 193.6L1283.9 172.9ZM1258 154.8L1250.2 174.2L1243.7 194.1L1238.6 214.4L1233.9 234.8L1230.2 255.4L1226.7 276L1226.9 276L1230.6 255.5L1234.5 234.9L1239.4 214.6L1244.6 194.4L1251.4 174.7L1259.4 155.4ZM1258.9 159.1L1249.7 183.4L1242.8 208.4L1236.7 233.5L1231.9 259L1227.6 284.5L1226 310.2L1226.2 310.2L1228.1 284.6L1232.8 259.2L1237.8 233.8L1244.3 208.7L1251.5 183.9L1261 159.9ZM1245.4 148.7L1237.1 170L1230.5 191.8L1225.3 214L1221.2 236.4L1217.6 259L1214.5 281.5L1214.7 281.6L1218.1 259L1222 236.6L1226.4 214.2L1231.9 192.2L1238.7 170.5L1247.2 149.4ZM1251.3 173.8L1244.6 194.3L1239.3 215.2L1234.5 236.3L1230.6 257.5L1227 278.8L1224.8 300.2L1225 300.2L1227.4 278.9L1231.2 257.6L1235.3 236.4L1240.2 215.5L1245.7 194.6L1252.7 174.2ZM1249.7 136L1237.4 164.3L1228.2 193.8L1221.4 224L1216.5 254.5L1212.2 285.1L1212.1 315.9L1212.3 315.9L1212.6 285.1L1217.1 254.6L1222.2 224.1L1229.2 194.1L1238.5 164.8L1251 136.6ZM1264.6 162.1L1256.6 182.5L1250.3 203.6L1244.7 224.9L1239.9 246.3L1235.7 267.8L1231.9 289.5L1232.1 289.5L1236.2 267.9L1240.7 246.5L1245.7 225.1L1251.6 204L1258.2 183.1L1266.5 162.8ZM1249.1 162.9L1240.5 186.1L1234.7 210.1L1229.5 234.2L1225.3 258.6L1221.5 283L1220.3 307.5L1220.5 307.5L1222 283L1226.1 258.7L1230.6 234.5L1236.2 210.5L1242.3 186.6L1251.1 163.6ZM1258.9 182.2L1253.2 200.4L1248.4 218.8L1243.7 237.2L1239.9 255.9L1236.3 274.6L1233.4 293.3L1233.6 293.3L1236.8 274.7L1240.6 256L1244.7 237.5L1249.6 219.1L1254.7 200.8L1260.6 182.7Z" fill="#080a20"/>
<path d="M1261.5 188L1259.5 194.3L1257.8 200.8L1256.3 207.3L1256.7 207.4L1258.5 201L1260.6 194.7L1262.9 188.4ZM1249.4 159.5L1247 166.5L1244.6 173.5L1242.2 180.5L1242.6 180.7L1245.5 173.9L1248.4 167L1251.3 160.3ZM1248.4 183.1L1247 187.4L1245.9 191.8L1245 196.2L1245.3 196.3L1246.6 192L1248 187.7L1249.8 183.6ZM1257.4 134.9L1254.3 141.3L1251.1 147.7L1248.4 154.3L1248.8 154.5L1251.8 148.1L1255.3 141.8L1258.8 135.6ZM1264.1 191.8L1262.3 198.4L1260.7 205.2L1259.3 211.9L1259.7 212L1261.7 205.4L1263.9 198.9L1266.4 192.5ZM1257.4 173L1255.4 179.6L1253.3 186.1L1251.3 192.7L1251.7 192.8L1254.3 186.4L1256.9 180.1L1259.5 173.8ZM1251 174.4L1250 177.9L1248.9 181.3L1247.9 184.8L1248.3 184.9L1249.7 181.6L1251.2 178.3L1252.6 175ZM1278.3 187.4L1277.3 190.7L1276.5 194L1275.9 197.4L1276.3 197.5L1277.5 194.3L1278.8 191.3L1280.5 188.3ZM1269.4 150.2L1268.3 153L1267.1 155.8L1266 158.7L1266.3 158.8L1267.9 156.2L1269.4 153.6L1271 151ZM1249.5 182.8L1248.3 186.9L1247.3 191.1L1246.6 195.3L1247 195.4L1248.3 191.4L1250 187.5L1251.7 183.7ZM1274.5 180.5L1272.2 186.6L1270.6 193L1269 199.3L1269.4 199.4L1271.6 193.3L1273.8 187.2L1276.6 181.4ZM1265.3 161.1L1263.4 165.7L1261.8 170.5L1260.2 175.3L1260.6 175.4L1262.8 170.9L1265 166.5L1267.5 162.2ZM1268.4 160.7L1266.6 164.9L1264.9 169.1L1263.4 173.4L1263.8 173.6L1265.8 169.5L1267.9 165.5L1270.2 161.6ZM1250.4 163L1249.5 166.2L1248.6 169.5L1247.7 172.7L1248.1 172.8L1249.6 169.8L1251.1 166.8L1252.6 163.8Z" fill="#fdfffb"/>
<path d="M1507.1 93.8C1508.8 89.9 1512 98.2 1513.2 99.3C1514.5 100.4 1518.1 103.8 1519.4 104.9C1520.6 106 1524.4 109.2 1525.5 110.4C1526.6 111.6 1529.3 115.8 1530.3 117.1C1531.3 118.4 1534.1 122.5 1535.1 123.8C1536 125.2 1538.9 129.2 1539.8 130.6C1540.8 131.9 1543.7 136 1544.6 137.3C1545.5 138.7 1551.4 140 1549 144.3C1546.7 148.6 1524.2 177.5 1521.1 180.6C1518 183.7 1518.8 176.3 1518.2 175.2C1517.6 174.2 1515.8 171 1515.2 169.9C1514.6 168.9 1512.8 165.7 1512.2 164.6C1511.7 163.6 1509.9 160.4 1509.3 159.3C1508.7 158.2 1506.9 155 1506.3 154C1505.7 152.9 1503.7 149.9 1503.1 148.9C1502.4 147.9 1500.5 144.9 1499.9 143.8C1499.2 142.8 1495.9 143.8 1496.6 138.8C1497.3 133.8 1505.4 97.7 1507.1 93.8Z" fill="#080a20" stroke="#080a20" stroke-width="1.5" stroke-linecap="round" stroke-linejoin="round"/>
<path d="M1531.9 123.1L1541.5 136.3L1550.3 149.8L1558.9 163.6L1566.6 177.8L1573.4 192.5L1579.2 207.5L1583.7 223.1L1588.5 238.7L1588.8 238.6L1584.8 222.8L1580.8 207L1575.4 191.6L1569 176.6L1561.6 162L1553.3 148L1544.7 134.1L1535.4 120.7ZM1533.7 127.7L1539.8 136L1545.6 144.5L1551.1 153.1L1556.6 161.9L1562.1 170.5L1566.5 179.7L1570.9 189L1575.5 198.3L1575.7 198.2L1571.9 188.6L1567.9 179.1L1563.8 169.6L1558.6 160.6L1553.4 151.7L1548.2 142.8L1542.6 134.1L1536.7 125.6ZM1523.2 116.2L1533.2 130.2L1543.2 144.3L1552.2 158.9L1561.2 173.6L1568.4 189.2L1575.3 204.9L1580.4 221.4L1585.5 237.8L1585.8 237.8L1581.4 221.1L1576.8 204.4L1570.3 188.4L1563.4 172.5L1554.7 157.5L1545.9 142.5L1536.2 128.2L1526.5 113.9ZM1536.6 137.4L1541.7 144.4L1546.2 151.7L1550.8 159L1555.4 166.4L1560 173.7L1563.6 181.4L1567.4 189.2L1571.2 197L1571.5 196.8L1568.2 188.9L1564.8 180.9L1561.4 172.9L1557.1 165.3L1552.7 157.9L1548.4 150.4L1544 142.9L1539.2 135.6ZM1528.4 128.6L1537.9 142.3L1546.9 156.4L1555.5 170.7L1563 185.6L1570.1 200.7L1575.6 216.4L1580.7 232.3L1586.3 248L1586.6 247.9L1581.4 232L1576.7 216L1571.5 200.1L1564.6 184.8L1557.3 169.8L1548.8 155.3L1540 141L1530.6 127.1ZM1513.3 114.5L1524.7 127.8L1534.8 142.3L1544.4 157.2L1553.6 172.3L1561.6 188.1L1569.3 204L1575 220.7L1580.7 237.5L1581 237.4L1576 220.4L1570.7 203.5L1563.3 187.3L1555.6 171.2L1546.7 155.8L1537.3 140.6L1527.4 125.7L1516.1 112.1ZM1510.6 112.9L1520.6 123L1528.7 134.8L1536.9 146.7L1544.6 159L1552.1 171.4L1558.9 184.1L1565.1 197.2L1570.9 210.4L1571.2 210.3L1565.9 196.8L1560 183.6L1553.4 170.7L1546.1 158.1L1538.7 145.6L1530.6 133.5L1522.6 121.4L1512.6 110.9ZM1533.7 148.6L1539 156.9L1544.1 165.2L1549.2 173.6L1554.1 182.1L1558.3 190.9L1562.7 199.7L1567 208.4L1570.4 217.5L1570.7 217.4L1567.8 208.1L1563.9 199.1L1559.9 190.2L1555.9 181.1L1551.3 172.4L1546.4 163.9L1541.6 155.3L1536.5 146.9ZM1525.7 138.3L1534.7 151.7L1543.1 165.6L1551.4 179.5L1558.4 194.1L1565.5 208.6L1570.9 223.8L1576.4 238.9L1582.6 253.9L1582.9 253.7L1577.2 238.7L1572 223.4L1566.8 208.1L1559.9 193.4L1553.1 178.6L1545 164.5L1536.8 150.4L1527.9 136.8ZM1511.4 122.3L1521.6 135L1530.7 148.7L1539.4 162.7L1547.9 176.9L1555.4 191.5L1562.7 206.3L1568.7 221.5L1574.4 236.8L1574.7 236.7L1569.4 221.2L1563.7 205.8L1556.6 190.9L1549.3 176.1L1541.1 161.7L1532.5 147.5L1523.5 133.6L1513.4 120.7ZM1510.6 125.2L1519.8 136.8L1528 149.2L1536 161.8L1543.7 174.7L1551 187.7L1557.6 201.1L1563.9 214.6L1569.4 228.4L1569.7 228.3L1564.8 214.2L1558.8 200.6L1552.5 186.9L1545.5 173.7L1538.1 160.6L1530.3 147.8L1522.3 135.1L1513.3 123.2ZM1518.7 136.2L1527.4 149.6L1535.9 163.1L1544 176.9L1551.6 191L1558.7 205.3L1565 219.8L1570.7 234.6L1576.9 249.2L1577.2 249.1L1571.4 234.3L1566 219.4L1560 204.7L1553.1 190.2L1545.7 175.9L1537.8 162L1529.5 148.3L1520.9 134.8ZM1512 131.4L1517.5 138.7L1522.5 146.5L1527.6 154.2L1532.5 162L1537.2 170L1542 177.9L1546.7 185.9L1550.8 194.2L1551.1 194L1547.4 185.5L1542.9 177.4L1538.4 169.3L1533.9 161.2L1529.1 153.2L1524.2 145.4L1519.3 137.5L1514 130ZM1517.1 141.5L1521.5 148.4L1526 155.2L1530.4 162.1L1534.6 169.2L1538.8 176.2L1543 183.2L1546.9 190.4L1550.6 197.7L1550.9 197.6L1547.6 190.1L1543.9 182.7L1540 175.5L1536 168.3L1532.1 161.1L1527.8 154.1L1523.5 147.1L1519.3 140.1ZM1516.3 143.5L1523.9 155.4L1531.3 167.3L1538.4 179.5L1545.3 191.9L1551.6 204.5L1558 217L1563.5 229.8L1569.2 242.5L1569.5 242.4L1564.4 229.4L1559.2 216.4L1553.2 203.7L1547.1 190.9L1540.5 178.4L1533.6 166L1526.4 153.8L1519.1 141.7ZM1517 147.2L1523 156.7L1528.9 166.3L1534.5 176L1540.2 185.7L1545.4 195.7L1550.5 205.7L1555.8 215.5L1560.4 225.7L1560.7 225.6L1556.5 215.2L1551.5 205.2L1546.6 195L1541.6 184.9L1536.2 175L1530.7 165.2L1525 155.5L1519.2 145.9ZM1521 158.8L1525.1 165.1L1529.1 171.6L1533 178.2L1536.9 184.7L1540.8 191.3L1544.3 198L1548 204.8L1552 211.3L1552.2 211.1L1549 204.2L1545.9 197.3L1542.8 190.2L1539.3 183.4L1535.7 176.7L1532.1 169.9L1528.5 163.2L1524.7 156.5ZM1517.2 154.1L1521.2 160.3L1525.1 166.4L1528.8 172.7L1532.5 179L1536.2 185.2L1540 191.5L1543.3 197.9L1546.8 204.3L1547.1 204.2L1544.2 197.5L1541.3 190.8L1537.8 184.3L1534.4 177.9L1531 171.4L1527.6 164.9L1523.9 158.6L1520.3 152.3ZM1521.3 163.9L1527.2 173.9L1533 183.9L1538.7 194L1543.8 204.4L1549.6 214.4L1554.7 224.6L1559.7 234.9L1565 245.1L1565.2 245L1560.6 234.6L1555.9 224.1L1551.1 213.6L1545.7 203.4L1540.8 192.9L1535.3 182.6L1529.8 172.4L1524.1 162.3ZM1520 165.8L1525.1 174.5L1530.2 183.4L1535.2 192.3L1539.9 201.3L1544.8 210.3L1549.9 219.2L1554.4 228.2L1559 237.1L1559.3 237L1555.2 227.8L1551 218.6L1546.2 209.6L1541.6 200.5L1537.1 191.3L1532.3 182.3L1527.5 173.2L1522.5 164.3ZM1512.7 157.2L1516.8 163.9L1520.9 170.6L1524.8 177.3L1528.7 184.1L1532.7 190.9L1536.5 197.8L1540.1 204.7L1544.2 211.5L1544.4 211.3L1541 204.3L1537.7 197.1L1534.2 190.1L1530.6 183.1L1526.9 176.2L1523.3 169.2L1519.4 162.3L1515.6 155.5ZM1500 140.1L1507.1 150.2L1513.5 161L1519.9 171.8L1526 182.7L1532.2 193.6L1538 204.8L1544.3 215.7L1550.4 226.5L1550.7 226.4L1545 215.3L1539.1 204.2L1533.6 192.9L1527.7 181.8L1521.8 170.7L1515.6 159.7L1509.5 148.7L1502.5 138.4ZM1503.5 151L1510.1 161.9L1516.6 173L1522.9 184.2L1529.2 195.4L1535.3 206.8L1541.8 217.9L1548.3 229L1554.7 240L1555 239.8L1549.3 228.4L1543.3 217.1L1537.2 205.8L1531.6 194.2L1525.6 182.7L1519.6 171.3L1513.5 160L1507.1 148.8ZM1498.9 144L1504.8 153L1510.3 162.3L1515.7 171.7L1521 181.2L1526.3 190.7L1531.6 200.2L1536.5 209.9L1542.3 219.1L1542.6 218.9L1537.2 209.5L1532.6 199.7L1527.6 190L1522.5 180.3L1517.4 170.7L1512.2 161.2L1506.9 151.7L1501.2 142.6ZM1499.2 147.1L1504.7 155.6L1509.8 164.6L1514.9 173.5L1519.9 182.5L1524.9 191.5L1529.9 200.6L1534.6 209.7L1540.1 218.5L1540.4 218.3L1535.4 209.3L1531 200L1526.2 190.8L1521.5 181.6L1516.7 172.5L1511.9 163.4L1507 154.3L1501.6 145.6ZM1502.8 157.3L1509.9 170.1L1517 183L1524 195.9L1530.9 209L1538.5 221.6L1546.1 234.1L1553.8 246.5L1561.8 258.8L1562 258.6L1554.6 246.1L1547.2 233.4L1539.9 220.8L1532.6 208L1526.1 194.9L1519.3 181.8L1512.5 168.7L1505.5 155.8ZM1501.8 159.1L1507.7 169.6L1513.5 180.1L1519.2 190.7L1524.9 201.3L1530.5 212L1537 222.2L1543.4 232.3L1550 242.4L1550.2 242.2L1544.3 231.8L1538.2 221.5L1532.1 211.1L1526.8 200.3L1521.4 189.6L1515.9 178.8L1510.4 168.1L1504.9 157.5ZM1502.5 164.5L1507 172.8L1511.5 181.2L1516 189.5L1520.5 197.8L1525.1 206.2L1529.5 214.6L1534.8 222.5L1540.2 230.3L1540.4 230.1L1535.6 222L1530.8 213.9L1526.7 205.3L1522.5 196.8L1518.3 188.3L1514.1 179.8L1509.8 171.4L1505.6 162.9ZM1499.2 160.8L1503.7 169.3L1508.2 177.8L1512.7 186.3L1517.3 194.8L1521.8 203.3L1526.3 211.9L1531.3 220.1L1536.8 228L1537.1 227.8L1532 219.7L1527.4 211.3L1523.2 202.6L1518.9 194L1514.6 185.4L1510.3 176.7L1506.1 168.1L1501.7 159.5ZM1496 156.9L1501.3 167.2L1506.6 177.4L1512 187.7L1517.3 197.9L1522.7 208.1L1528.2 218.3L1534.8 227.8L1541.4 237.2L1541.7 237.1L1535.4 227.4L1529.2 217.7L1523.9 207.5L1518.8 197.1L1513.7 186.8L1508.6 176.4L1503.5 166.1L1498.4 155.7ZM1532.6 140.2L1542.2 155.1L1551.4 170.2L1559.6 185.8L1567.2 201.8L1573.3 218.3L1578.8 235L1579 235L1573.6 218.2L1567.8 201.6L1560.4 185.5L1552.3 169.7L1543.4 154.4L1533.9 139.4ZM1521.1 146.5L1531.3 162.6L1540.9 179.1L1549.8 195.9L1558.5 212.9L1565.6 230.3L1573.1 247.6L1573.3 247.6L1566.1 230.1L1559.2 212.5L1550.7 195.4L1542.1 178.4L1532.7 161.7L1522.8 145.5ZM1521.7 129.1L1534.1 147.6L1545.8 166.6L1556.5 186.2L1566.2 206.3L1573.5 227.2L1581.2 248L1581.4 247.9L1573.9 227L1566.7 206L1557.2 185.8L1546.6 166.1L1535.2 147L1522.9 128.3ZM1515.2 118.5L1531.2 139.9L1545.5 162.6L1558.5 186.1L1569.5 210.5L1578 235.8L1587.5 260.8L1587.7 260.7L1578.4 235.7L1570.1 210.3L1559.2 185.7L1546.4 162.1L1532.2 139.2L1516.3 117.6ZM1507.5 145.7L1518.7 164.1L1529.4 182.8L1539.6 201.8L1549.9 220.7L1559.4 239.8L1569.5 258.6L1569.7 258.5L1559.9 239.6L1550.6 220.3L1540.5 201.3L1530.6 182.1L1520.1 163.3L1509.1 144.7ZM1534.2 157.9L1543.7 173.9L1552.5 190.3L1560.8 206.9L1567.6 224L1574.2 241.2L1581.5 258.2L1581.6 258.1L1574.6 241L1568.3 223.7L1561.7 206.5L1553.6 189.7L1545 173.2L1535.8 157ZM1528.1 119.7L1541.1 137.9L1553 156.8L1564.1 176.1L1573.4 196.4L1580.4 217.6L1586.7 239L1586.9 238.9L1580.8 217.4L1574.1 196.2L1565 175.7L1554 156.2L1542.3 137.1L1529.6 118.7ZM1513.1 182.4L1518.6 192.6L1524 202.8L1529.4 213.1L1535.7 222.9L1542 232.6L1548.2 242.3L1548.4 242.2L1542.4 232.4L1536.3 222.5L1530.3 212.6L1525.2 202.2L1520 191.9L1514.8 181.5ZM1507.2 171.3L1513.7 183.5L1520.3 195.8L1526.8 208.1L1533.8 220.1L1541.3 231.7L1548.9 243.3L1549 243.2L1541.8 231.5L1534.5 219.7L1527.8 207.6L1521.6 195.1L1515.3 182.7L1509 170.4ZM1532.8 163.3L1542.1 179.3L1550.7 195.7L1559.1 212.1L1566 229.1L1573.1 246L1580.7 262.8L1580.9 262.7L1573.6 245.8L1566.8 228.8L1560.2 211.7L1552 195.1L1543.7 178.5L1534.5 162.3ZM1498.7 154.7L1508.7 173.1L1518.5 191.6L1528.2 210.2L1539.1 228L1550.4 245.6L1562 262.9L1562.1 262.8L1550.7 245.3L1539.7 227.7L1528.9 209.8L1519.5 191.1L1509.9 172.5L1500.1 154ZM1525.2 123.1L1539.1 143.2L1551.9 164.1L1563.4 185.7L1573.2 208.1L1580.5 231.4L1588.5 254.5L1588.7 254.5L1580.8 231.3L1573.7 207.9L1564.1 185.4L1552.8 163.6L1540 142.6L1526.2 122.3ZM1527.2 156.3L1536.4 171.7L1545.5 187.2L1553.4 203.3L1561 219.4L1567.8 235.9L1575 252.1L1575.2 252L1568.2 235.7L1561.7 219.1L1554.3 202.9L1546.6 186.6L1537.8 170.9L1528.7 155.4ZM1537.1 157L1545.1 170.3L1552.8 183.8L1559.5 197.8L1566.1 211.9L1571.3 226.4L1576.7 240.8L1576.9 240.8L1571.8 226.2L1566.8 211.6L1560.5 197.4L1554 183.2L1546.5 169.5L1538.8 156ZM1502.5 136.6L1515.8 156.6L1528 177.5L1539.6 198.8L1550.9 220.1L1561.4 241.6L1572.6 262.8L1572.7 262.7L1561.8 241.4L1551.5 219.8L1540.3 198.3L1528.9 176.9L1516.9 155.9L1503.7 135.8ZM1512.3 187.2L1519.2 200.4L1526.2 213.7L1534.2 226.3L1542.6 238.6L1551.2 250.8L1559.8 263L1560 262.8L1551.6 250.5L1543.3 238.1L1535.2 225.6L1527.4 213L1520.8 199.6L1514.1 186.3Z" fill="#080a20"/>
<path d="M1524.8 142L1527.5 145.6L1530.2 149.1L1533 152.7L1533.3 152.5L1531.2 148.5L1529 144.6L1526.9 140.7ZM1520.9 115.3L1526 121.3L1530.7 127.6L1535.5 133.9L1535.8 133.7L1531.6 127L1527.4 120.3L1522.8 113.8ZM1532.6 174.7L1535.3 178.8L1538 183L1540.7 187.1L1541.1 186.9L1539 182.4L1536.8 178L1534.7 173.6ZM1537.2 164.2L1539 166.8L1540.8 169.4L1542.6 172L1543 171.8L1541.6 168.9L1540.2 166.1L1538.8 163.2ZM1531.2 163.2L1533.8 167.1L1536.3 171L1538.9 174.8L1539.2 174.6L1537.2 170.5L1535.2 166.3L1533.1 162.1ZM1514.1 159.2L1515.9 161.9L1517.7 164.7L1519.5 167.4L1519.8 167.2L1518.3 164.3L1516.8 161.4L1515.3 158.4ZM1517.2 158.2L1519.5 161.7L1521.9 165.1L1524.3 168.5L1524.6 168.3L1522.7 164.6L1520.8 160.9L1518.9 157.2ZM1522.9 122.1L1525.4 125.4L1528 128.8L1530.6 132.2L1530.9 131.9L1528.7 128.3L1526.5 124.7L1524.3 121.1ZM1511.3 148.7L1513.1 151L1514.9 153.4L1516.7 155.7L1517.1 155.5L1515.9 152.8L1514.6 150.1L1513.4 147.4ZM1509.5 129.5L1513.4 133.6L1516.9 138.1L1520.2 142.8L1520.6 142.5L1517.7 137.5L1514.7 132.6L1511.2 128.1ZM1529.3 164.3L1531.8 168.2L1534.2 172L1536.6 175.9L1537 175.7L1534.9 171.6L1532.9 167.6L1530.8 163.5ZM1523.5 160.7L1526.6 165.4L1529.5 170.2L1532.4 175L1532.8 174.8L1530.2 169.8L1527.6 164.8L1524.8 159.9ZM1532.8 152.4L1535.5 156.2L1538.1 160.1L1540.7 164L1541.1 163.8L1539 159.6L1536.8 155.4L1534.6 151.3ZM1532.5 158.3L1535 161.9L1537.4 165.6L1539.8 169.3L1540.2 169.1L1538.2 165.2L1536.2 161.2L1534.3 157.3Z" fill="#fdfffb"/>
<path d="M1554.6 228.7L1571 262.5L1585.4 296.2L1598.2 330.1L1598.4 329.9L1586.6 295.8L1573 261.5L1557.4 227.3Z" fill="#080a20"/>
<path d="M770.2 10.3C764.7 10.7 756.5 12.8 751.7 15.4C746.9 17.9 744.8 21.9 741.4 25.6C738 29.4 735.3 34.5 731.2 37.9C727.1 41.3 722.6 43.7 716.8 46.1C711 48.5 703.1 49.7 696.3 52.3C689.5 54.9 682.3 57.8 675.8 61.5C669.3 65.2 662.9 70 657.4 74.8C651.9 79.6 646.4 84.9 643 90.2C639.6 95.5 638.1 101.1 636.9 106.6C635.7 112.1 635.1 117.2 635.8 123C636.5 128.8 638.1 135.3 641 141.5C643.9 147.7 647.5 154.1 653.3 159.9C659.1 165.7 667.3 171.3 675.8 176.3C684.3 181.3 694.6 186.3 704.5 189.7C714.4 193.1 725 195.3 735.3 196.8C745.5 198.3 755.8 199.1 766 198.9C776.2 198.7 786.5 197.7 796.8 195.8C807.1 193.9 818.4 191.2 827.6 187.6C836.8 184 845 179.6 852.2 174.3C859.4 169 866 162.3 870.6 155.8C875.2 149.3 878.2 141.8 879.9 135.3C881.6 128.8 882.1 123.4 880.9 116.9C879.7 110.4 876.5 102.9 872.7 96.4C868.9 89.9 863.8 83.4 858.3 77.9C852.8 72.4 846 67.5 839.9 63.6C833.8 59.7 826.5 57.2 821.4 54.3C816.3 51.4 812.5 49.3 809.1 46.1C805.7 42.9 803.3 38.8 800.9 34.9C798.5 31 797.5 26.2 794.8 22.6C792.1 19 788.6 15.4 784.5 13.3C780.4 11.2 775.7 10 770.2 10.3Z" fill="#fdfffb" stroke="#080a20" stroke-width="4" stroke-linecap="round" stroke-linejoin="round"/>
<path d="M1382.6 3.1C1378.2 3.5 1370.2 4.7 1365.8 7C1361.4 9.3 1358.3 13.1 1356 16.8C1353.7 20.5 1353.9 25.2 1351.8 29.4C1349.7 33.6 1347 38.2 1343.5 41.9C1340 45.6 1335.6 48.9 1330.9 51.7C1326.2 54.5 1321.3 55.4 1315.5 58.7C1309.7 62 1302.2 66.4 1295.9 71.3C1289.6 76.2 1282.6 82.3 1277.7 88.1C1272.8 93.9 1269 99.9 1266.6 106.2C1264.2 112.5 1262.9 119.3 1263.1 125.8C1263.3 132.3 1265.1 138.9 1268 145.4C1270.9 151.9 1275.2 159.2 1280.5 165C1285.8 170.8 1292.4 175.9 1300.1 180.3C1307.8 184.7 1317.6 188.6 1326.7 191.5C1335.8 194.4 1345.8 196.5 1354.6 197.8C1363.4 199.2 1370.9 199.8 1379.8 199.6C1388.7 199.4 1398.5 198.2 1407.8 196.4C1417.1 194.6 1426.4 192.1 1435.7 188.7C1445 185.3 1455.3 180.8 1463.7 176.1C1472.1 171.4 1479.7 166.4 1486 160.8C1492.3 155.2 1497.8 148.4 1501.4 142.6C1505 136.8 1506.7 131.4 1507.7 125.8C1508.8 120.2 1508.5 114.3 1507.7 109C1506.9 103.7 1505.7 98.8 1502.8 93.7C1499.9 88.6 1495.5 83.4 1490.2 78.3C1484.9 73.2 1477.5 67.2 1470.7 62.9C1464 58.6 1456.2 55.4 1449.7 52.4C1443.2 49.4 1436.6 47.6 1431.5 44.7C1426.4 41.8 1422.2 38.4 1418.9 34.9C1415.6 31.4 1414.7 27.8 1411.9 23.8C1409.1 19.9 1405.5 14.3 1402.2 11.2C1399 8 1395.7 6.2 1392.4 4.9C1389.1 3.6 1387 2.8 1382.6 3.1Z" fill="#fdfffb" stroke="#080a20" stroke-width="4" stroke-linecap="round" stroke-linejoin="round"/>
<path d="M90.4 741C89.5 733.9 86 710.8 84.8 698.4C83.6 686 82.8 677.6 83.3 666.7C83.8 655.8 85 643.8 87.6 633.2C90.2 622.7 93.5 612.4 98.8 603.4C104.1 594.4 111.5 585.3 119.3 579.1C127.1 572.9 137.3 568.7 145.4 566.1C153.5 563.5 160.4 562.8 167.8 563.3C175.2 563.8 182.7 565.8 190.1 568.9C197.5 572 205.7 576.1 212.5 581.9C219.3 587.6 225.8 595.5 231.1 603.4C236.4 611.3 240.8 620.2 244.2 629.5C247.6 638.8 250.7 650 251.6 659.3C252.5 668.6 250.8 679.3 249.8 685.4C248.8 691.5 245.7 691.2 245.7 695.6C245.7 700 247.9 703.9 249.8 711.5C251.7 719.1 254.1 730.7 257.2 741.3C260.3 751.9 264.7 764.9 268.4 774.9C272.1 784.9 276.2 792.9 279.6 801C283 809.1 287 819.6 288.5 823.3" fill="none" stroke="#080a20" stroke-width="3.8" stroke-linecap="round" stroke-linejoin="round"/>
<path d="M288.5 823.3C290.1 822.5 294.1 819.3 298.2 818.7C302.3 818.1 308.1 817.7 313.1 819.6C318.1 821.5 323.3 824.8 328 830C332.7 835.2 337.8 842.4 341.1 851C344.4 859.6 347 871.8 347.6 881.5C348.2 891.2 346.5 901.1 344.8 909.5C343.1 917.9 339.4 923.1 337.4 931.8C335.4 940.5 333 952.4 332.7 961.7C332.4 971 334.2 980.2 335.5 987.8C336.8 995.4 339.4 1004 340.2 1007.3" fill="none" stroke="#080a20" stroke-width="3.8" stroke-linecap="round" stroke-linejoin="round"/>
<path d="M340.2 1007.3L361.6 1012.9" fill="none" stroke="#080a20" stroke-width="3.8" stroke-linecap="round" stroke-linejoin="round"/>
<path d="M362.5 1030.3L336.4 1024.1" fill="none" stroke="#080a20" stroke-width="3.8" stroke-linecap="round" stroke-linejoin="round"/>
<path d="M336.4 1024.1C335.3 1026.1 332.8 1031.7 329.9 1036.2C326.9 1040.7 321.2 1045.2 318.7 1051.1C316.2 1057 315.9 1064.3 315 1071.6C314.1 1078.9 313.3 1088.1 313.2 1095C313.1 1101.9 315.4 1107.3 314.6 1113.1C313.8 1118.9 311.9 1124.8 308.3 1129.9C304.7 1135 298.5 1139.9 292.9 1143.9C287.3 1147.9 281.3 1151.6 274.8 1153.7C268.3 1155.8 262 1157 253.8 1156.5C245.6 1156 235.1 1153.8 225.8 1150.9C216.5 1148 207.2 1144.1 197.9 1139C188.6 1133.9 179.2 1127.9 169.9 1120.1C160.6 1112.3 150.3 1102.5 141.9 1092.2C133.5 1082 126.8 1071 119.3 1058.6C111.8 1046.2 103.1 1031.9 96.9 1017.6C90.7 1003.3 86 988.3 82 972.8C78 957.3 75.1 940.5 72.7 924.4C70.3 908.2 68.4 890 67.5 875.9C66.6 861.8 66.5 850.9 67.1 840C67.6 829.1 68.9 821.1 70.8 810.3C72.7 799.4 75 786.1 78.3 774.9C81.6 763.7 86.7 751.6 90.4 743.2C94.1 734.8 97.1 730.4 100.7 724.5C104.3 718.6 106.8 713.4 111.8 707.8C116.8 702.2 124.3 695.8 130.5 691C136.7 686.2 142.9 682.2 149.1 678.9C155.3 675.6 161.6 673.1 167.8 671.4C174 669.7 180.2 668.6 186.4 668.6C192.6 668.6 200 669.9 205 671.4C210 672.9 214.3 676.8 216.2 677.9" fill="none" stroke="#080a20" stroke-width="3.8" stroke-linecap="round" stroke-linejoin="round"/>
<path d="M110 704C109.4 698.4 106.2 681.4 106.2 670.5C106.2 659.6 107.5 648.4 110 638.8C112.5 629.2 116.5 620 121.2 612.7C125.9 605.4 131.7 599 137.9 595C144.1 591 151.9 588.6 158.4 588.5C164.9 588.4 170.9 590.4 177.1 594.1C183.3 597.8 190.4 604.3 195.7 610.8C201 617.3 205.2 625.7 208.8 633.2C212.4 640.7 215.4 648.8 217.1 655.6C218.8 662.4 219.2 670.5 219 674.2C218.8 677.9 216.7 677.3 216.2 677.9" fill="none" stroke="#080a20" stroke-width="3.8" stroke-linecap="round" stroke-linejoin="round"/>
<path d="M246.8 1117.3C245.6 1117.4 243.8 1118.7 239.8 1118C235.8 1117.3 229.5 1116 223 1113.1C216.5 1110.2 208.1 1105.6 200.7 1100.5C193.2 1095.4 184.6 1088.8 178.3 1082.4C172 1076 168.2 1069.1 163 1062C157.8 1054.9 153 1049.2 147.3 1039.9C141.6 1030.6 133.9 1017.6 128.6 1006.4C123.3 995.2 119.3 984.6 115.6 972.8C111.9 961 108.7 948 106.2 935.6C103.7 923.2 101.8 911.3 100.7 898.3C99.6 885.2 99.1 871 99.7 857.3C100.3 843.6 102.4 828.4 104.4 815.9C106.4 803.4 108.7 793.2 111.8 782.3C114.9 771.4 118.7 759.9 123 750.6C127.3 741.3 132.3 733.2 137.9 726.4C143.5 719.6 150.1 713.5 156.6 709.6C163.1 705.7 170.6 703.6 177.1 703.1C183.6 702.6 190.4 703.8 195.7 706.8C201 709.8 204.8 714.7 208.8 720.8C212.8 726.9 216.5 734.5 219.9 743.2C223.3 751.9 225.6 762.5 229.3 773C233 783.5 238 796.2 242.3 806.5C246.7 816.8 252.1 828.6 255.4 834.5C258.7 840.4 260.8 840.8 261.9 842" fill="none" stroke="#080a20" stroke-width="3.8" stroke-linecap="round" stroke-linejoin="round"/>
<path d="M261.9 842C260.8 843 257.7 845.1 255.4 848C253.1 850.9 249.8 853.5 247.9 859.1C246 864.7 244.7 872.5 244.2 881.5C243.7 890.5 244.9 907.9 245.1 913.2" fill="none" stroke="#080a20" stroke-width="3.8" stroke-linecap="round" stroke-linejoin="round"/>
<path d="M246.8 1117.3C245.4 1116.4 240.7 1114.5 238.4 1111.7C236.1 1108.9 233.5 1104.2 232.8 1100.5C232.1 1096.8 232.8 1093.1 234.2 1089.4C235.6 1085.7 237.9 1081.8 241.2 1078.2C244.5 1074.6 249.8 1070.2 253.8 1067.7C257.8 1065.2 259.8 1064.5 265 1063.5C270.2 1062.5 281.8 1062.2 285.2 1061.9" fill="none" stroke="#080a20" stroke-width="3.8" stroke-linecap="round" stroke-linejoin="round"/>
<path d="M285.2 1061.9C282.4 1061.7 273.1 1061.6 268.4 1060.4C263.7 1059.2 260.3 1058 257.2 1054.9C254.1 1051.8 251.4 1046.8 249.8 1041.8C248.2 1036.8 248.2 1030.3 247.9 1025C247.6 1019.7 247 1016.3 247.9 1010.1C248.8 1003.9 251.8 995.2 253.5 987.8C255.2 980.3 257.6 972.5 258.2 965.4C258.8 958.2 257.4 948.3 257.2 944.9" fill="none" stroke="#080a20" stroke-width="3.8" stroke-linecap="round" stroke-linejoin="round"/>
<path d="M124.9 754.4C127.1 758.8 132.6 771.2 137.9 780.5C143.2 789.8 150.1 801 156.6 810.3C163.1 819.6 170.3 828.6 177.1 836.4C183.9 844.2 192.6 852.2 197.6 856.9C202.6 861.6 205.3 863.4 206.9 864.7" fill="none" stroke="#080a20" stroke-width="3.8" stroke-linecap="round" stroke-linejoin="round"/>
<path d="M206.9 864.7C209.7 864.2 216.9 863 223.7 861.9C230.5 860.8 243.9 858.8 247.9 858.2" fill="none" stroke="#080a20" stroke-width="3.8" stroke-linecap="round" stroke-linejoin="round"/>
<path d="M110.9 795.4C113.1 799.7 118.9 812.9 124 821C129.1 829.1 135 836.9 141.7 844.2C148.4 851.5 156.6 859.1 164 864.7C171.4 870.3 180.8 874.8 186.4 877.8C192 880.8 195.7 881.6 197.6 882.4" fill="none" stroke="#080a20" stroke-width="3.8" stroke-linecap="round" stroke-linejoin="round"/>
<path d="M197.6 882.4C196.3 883.8 192.3 887.2 190.1 890.8C187.9 894.4 185.4 901.7 184.5 903.9" fill="none" stroke="#080a20" stroke-width="3.8" stroke-linecap="round" stroke-linejoin="round"/>
<path d="M103.4 911.3C107.9 910.4 119.8 907.1 130.5 905.7C141.2 904.3 156.9 902.7 167.8 902.9C178.7 903.1 186.4 905.3 195.7 906.7C205 908.1 215.3 909.9 223.7 911.3C232.1 912.7 238.2 915.1 246 915.1C253.8 915.1 263.3 913 270.3 911.3C277.3 909.6 285.1 905.9 288 904.8" fill="none" stroke="#080a20" stroke-width="3.8" stroke-linecap="round" stroke-linejoin="round"/>
<path d="M107.2 936.5C111.1 935.7 120.4 933.1 130.5 931.8C140.6 930.5 156.9 929 167.8 928.7C178.7 928.4 186.4 929.2 195.7 930C205 930.8 214.4 932 223.7 933.7C233 935.4 243.8 938 251.6 940.2C259.4 942.4 265 944.5 270.3 946.7C275.6 948.9 281.1 952.2 283.3 953.3" fill="none" stroke="#080a20" stroke-width="3.8" stroke-linecap="round" stroke-linejoin="round"/>
<path d="M69.9 916.9C66.3 918.1 55.2 921 48.5 924.4C41.8 927.8 34.3 932.4 29.8 937.4C25.3 942.4 21.7 948.9 21.4 954.2C21.1 959.5 23.8 964.4 28 969.1C32.2 973.8 39.5 978.5 46.6 982.2C53.7 985.9 63.8 989.2 70.8 991.5C77.8 993.8 85.5 995.3 88.5 996.1" fill="none" stroke="#080a20" stroke-width="3.8" stroke-linecap="round" stroke-linejoin="round"/>
<path d="M73.6 939.3C71.6 940.1 64.6 941.6 61.5 943.9C58.4 946.2 55 950.3 55 953.3C55 956.3 57 959.1 61.5 961.7C66 964.3 78.6 967.9 82 969.1" fill="none" stroke="#080a20" stroke-width="3.8" stroke-linecap="round" stroke-linejoin="round"/>
<path d="M116.5 974.7C121.9 975.3 139 977.9 149.1 978.4C159.2 978.9 168.4 978.1 177.1 977.5C185.8 976.9 197.3 975.2 201.3 974.7" fill="none" stroke="#080a20" stroke-width="3.8" stroke-linecap="round" stroke-linejoin="round"/>
<path d="M201.3 974.7C201.8 972.5 202.6 966.1 204.1 961.7C205.6 957.4 207.5 952 210.6 948.6C213.7 945.2 220.7 942.4 222.7 941.1" fill="none" stroke="#080a20" stroke-width="3.8" stroke-linecap="round" stroke-linejoin="round"/>
<path d="M193.8 934.6C194.7 935.7 196.6 938.9 199.4 941.2C202.2 943.5 208.7 947.4 210.6 948.6" fill="none" stroke="#080a20" stroke-width="3.8" stroke-linecap="round" stroke-linejoin="round"/>
<path d="M124.9 997.1C128.9 997.6 140.4 999.4 149.1 999.9C157.8 1000.4 167.8 1000.4 177.1 999.9C186.4 999.4 198.5 996.3 205 997.1C211.5 997.9 211.8 1002.3 216.2 1004.5C220.5 1006.7 225.8 1009.2 231.1 1010.1C236.4 1011 245.1 1010.1 247.9 1010.1" fill="none" stroke="#080a20" stroke-width="3.8" stroke-linecap="round" stroke-linejoin="round"/>
<path d="M2055 750.6C2056.1 745 2059.9 728 2061.5 717.1C2063.1 706.2 2064.3 695.6 2064.3 685.4C2064.3 675.1 2063.4 665.5 2061.5 655.6C2059.6 645.7 2057 635.3 2053.1 625.7C2049.2 616.1 2044.1 605.9 2038.2 597.8C2032.3 589.7 2024.5 582.6 2017.7 577.3C2010.9 572 2004 568.4 1997.2 566.1C1990.4 563.8 1983.9 563 1976.7 563.3C1969.5 563.6 1961.5 565 1954.3 568C1947.1 571 1940.3 575.4 1933.8 581C1927.3 586.6 1920.8 593.7 1915.2 601.5C1909.6 609.3 1904.3 618.9 1900.3 627.6C1896.3 636.3 1893 645.9 1891 653.7C1889 661.5 1888.2 667.7 1888.2 674.2C1888.2 680.7 1890.8 685.6 1891 692.8C1891.2 699.9 1890.3 708.4 1889.1 717.1C1887.8 725.8 1886 735.1 1883.5 745C1881 754.9 1877.6 766.8 1874.2 776.7C1870.8 786.7 1866.7 796.2 1863 804.7C1859.3 813.2 1853.7 824.1 1851.8 828" fill="none" stroke="#080a20" stroke-width="3.8" stroke-linecap="round" stroke-linejoin="round"/>
<path d="M1851.8 828C1850.6 827.2 1847.5 824.1 1844.4 823C1841.3 821.9 1837.2 820.5 1833.2 821.1C1829.2 821.7 1825.1 823.3 1820.1 826.5C1815.1 829.7 1808.1 834.4 1803.4 840.5C1798.8 846.6 1795 854.8 1792.2 862.9C1789.4 871 1786.6 880.6 1786.6 889C1786.6 897.4 1790 904.5 1792.2 913.2C1794.4 921.9 1797.6 932.2 1799.6 941.2C1801.6 950.2 1804.6 958.8 1804.3 967.2C1804 975.6 1799.5 983.7 1797.8 991.5C1796.1 999.3 1794.7 1010.1 1794.1 1013.8" fill="none" stroke="#080a20" stroke-width="3.8" stroke-linecap="round" stroke-linejoin="round"/>
<path d="M1794.1 1013.8L1772.6 1022.2" fill="none" stroke="#080a20" stroke-width="3.8" stroke-linecap="round" stroke-linejoin="round"/>
<path d="M1767 1036.2L1793.1 1028.8" fill="none" stroke="#080a20" stroke-width="3.8" stroke-linecap="round" stroke-linejoin="round"/>
<path d="M1793.1 1028.8C1794.8 1031.6 1799.2 1039.9 1803.4 1045.5C1807.6 1051.1 1814.7 1056.4 1818.3 1062.3C1821.9 1068.2 1824 1074.9 1825 1081C1826 1087.1 1824.2 1092.8 1824.3 1099.1C1824.4 1105.4 1824.3 1112.4 1825.7 1118.7C1827.1 1125 1829.2 1132 1832.7 1136.9C1836.2 1141.8 1841.1 1144.6 1846.7 1148.1C1852.3 1151.6 1859.7 1155.6 1866.2 1157.9C1872.7 1160.2 1879 1162 1885.8 1162.1C1892.6 1162.2 1899.8 1160.5 1906.8 1158.6C1913.8 1156.7 1920.1 1154.5 1927.8 1150.9C1935.5 1147.3 1945 1142.3 1952.9 1136.9C1960.8 1131.5 1968.5 1125.5 1975.3 1118.7C1982.1 1111.9 1987.9 1104.8 1994 1096C2000.1 1087.2 2005.9 1077.2 2012 1066C2018.1 1054.8 2024.9 1041.8 2030.8 1028.8C2036.7 1015.8 2042.5 1001.5 2047.5 987.8C2052.5 974.1 2057 959.8 2060.6 946.7C2064.2 933.7 2066.8 921.3 2069 909.5C2071.2 897.7 2072.8 886.1 2073.6 875.9C2074.4 865.6 2073.8 855.8 2073.6 848C2073.4 840.2 2073.5 836.7 2072.7 828.9C2071.9 821.1 2070.7 810 2069 801C2067.3 792 2064.8 783.3 2062.5 774.9C2060.2 766.5 2057.8 757.8 2055 750.6C2052.2 743.5 2049.4 738.2 2045.7 732C2042 725.8 2036.9 718.6 2032.6 713.3C2028.2 708 2024.9 704.6 2019.6 700.3C2014.3 696 2007.1 691 2000.9 687.3C1994.7 683.6 1988.5 680.2 1982.3 677.9C1976.1 675.6 1969.9 673.9 1963.7 673.3C1957.5 672.7 1950.8 673.3 1945 674.2C1939.2 675.1 1931.8 678.1 1929.2 678.9" fill="none" stroke="#080a20" stroke-width="3.8" stroke-linecap="round" stroke-linejoin="round"/>
<path d="M2029.8 705.9C2030 702.2 2031.1 691.3 2030.8 683.5C2030.5 675.7 2029.9 667.4 2028 659.3C2026.1 651.2 2022.9 642.2 2019.6 635.1C2016.3 628 2012.8 621.5 2008.4 616.4C2004.1 611.3 1998.5 607 1993.5 604.3C1988.5 601.6 1983.3 600.1 1978.6 600C1973.9 599.9 1970.2 601 1965.5 603.4C1960.8 605.8 1955.1 609.6 1950.6 614.6C1946.1 619.6 1941.6 626.4 1938.5 633.2C1935.4 640 1933.5 648 1932 655.6C1930.5 663.2 1929.7 675 1929.2 678.9" fill="none" stroke="#080a20" stroke-width="3.8" stroke-linecap="round" stroke-linejoin="round"/>
<path d="M1894.2 1122.2C1895.6 1122.1 1899.3 1122.2 1902.6 1121.5C1905.9 1120.8 1908.9 1119.9 1913.8 1118C1918.7 1116.1 1926 1113.7 1932 1110.3C1938 1106.9 1944.7 1102.5 1950.1 1097.7C1955.5 1092.9 1960 1087.3 1964.5 1081.5C1969 1075.7 1972.5 1070.9 1977 1063C1981.5 1055.1 1986.4 1045.3 1991.6 1034.3C1996.8 1023.3 2003.4 1009.8 2008.4 997.1C2013.4 984.4 2017.8 971.3 2021.5 957.9C2025.2 944.5 2028.2 929.6 2030.8 916.9C2033.4 904.2 2035.9 893 2037.3 881.5C2038.7 870 2039 856.5 2039.2 848C2039.4 839.5 2039.1 838.6 2038.2 830.8C2037.3 823 2035.5 810.3 2033.6 801C2031.7 791.7 2029.7 783 2027 774.9C2024.3 766.8 2021.1 759.4 2017.7 752.5C2014.3 745.6 2010.8 739.2 2006.5 733.8C2002.2 728.4 1997.5 723.5 1991.6 719.9C1985.7 716.3 1977.9 713 1971.1 712.4C1964.3 711.8 1957.4 713.5 1950.6 716.1C1943.8 718.8 1935.8 723.5 1930.1 728.3C1924.3 733.1 1919.3 739.1 1916.1 745C1912.8 750.9 1912.6 756.9 1910.6 763.7C1908.6 770.5 1906.7 778.2 1904 786C1901.3 793.8 1898.1 802.8 1894.7 810.3C1891.3 817.8 1886.1 825.8 1883.5 830.8C1880.9 835.8 1878.9 836.8 1878.9 840C1878.9 843.2 1881.7 846.2 1883.5 850C1885.3 853.8 1888.3 857.6 1890 862.9C1891.7 868.1 1893.5 875.6 1893.8 881.5C1894.1 887.4 1892.7 893.2 1891.9 898.3C1891.1 903.4 1889.6 910 1889.1 912.3" fill="none" stroke="#080a20" stroke-width="3.8" stroke-linecap="round" stroke-linejoin="round"/>
<path d="M1894.2 1122.2C1895.4 1121.2 1899.5 1119.1 1901.2 1115.9C1903 1112.8 1904.7 1107.2 1904.7 1103.3C1904.7 1099.3 1903.2 1095.9 1901.2 1092.2C1899.2 1088.5 1896.3 1084.4 1892.8 1081C1889.3 1077.6 1884.4 1074.5 1880.2 1071.9C1876 1069.3 1871.8 1067.1 1867.6 1065.6C1863.4 1064.1 1857.2 1063.3 1855.1 1062.8" fill="none" stroke="#080a20" stroke-width="3.8" stroke-linecap="round" stroke-linejoin="round"/>
<path d="M1870.5 1064.2C1872.4 1061.1 1878.3 1052.3 1881.7 1045.5C1885.1 1038.7 1890.1 1028.8 1891 1023.2C1891.9 1017.6 1888.8 1017.9 1887.2 1012C1885.7 1006.1 1882.9 994.9 1881.7 987.8C1880.5 980.6 1879.5 975.3 1879.8 969.1C1880.1 962.9 1882.3 955 1883.5 950.5C1884.7 946 1886.6 943.5 1887.2 942.1" fill="none" stroke="#080a20" stroke-width="3.8" stroke-linecap="round" stroke-linejoin="round"/>
<path d="M1891 1017.6C1893.8 1017.3 1902.5 1017.2 1907.8 1015.7C1913.1 1014.2 1918.4 1011.9 1922.7 1008.3C1927 1004.7 1932 996.6 1933.8 994.3" fill="none" stroke="#080a20" stroke-width="3.8" stroke-linecap="round" stroke-linejoin="round"/>
<path d="M1933.8 994.3C1937.2 994.9 1946.2 997.2 1954.3 998C1962.4 998.8 1973.6 998.9 1982.3 998.9C1991 998.9 2002.5 998.1 2006.5 998" fill="none" stroke="#080a20" stroke-width="3.8" stroke-linecap="round" stroke-linejoin="round"/>
<path d="M2014.9 974.7C2011 975 2000.1 976.3 1991.6 976.6C1983.1 976.9 1972.7 976.9 1963.7 976.6C1954.7 976.3 1941.9 975 1937.6 974.7" fill="none" stroke="#080a20" stroke-width="3.8" stroke-linecap="round" stroke-linejoin="round"/>
<path d="M1937.6 974.7C1937.1 972.5 1936 965.7 1934.8 961.7C1933.5 957.7 1931.8 953.1 1930.1 950.5C1928.4 947.9 1925.4 946.6 1924.5 945.8" fill="none" stroke="#080a20" stroke-width="3.8" stroke-linecap="round" stroke-linejoin="round"/>
<path d="M1933.8 950.5C1935.4 949.4 1940.5 946.4 1943.2 943.9C1945.9 941.4 1948.6 937 1949.7 935.6" fill="none" stroke="#080a20" stroke-width="3.8" stroke-linecap="round" stroke-linejoin="round"/>
<path d="M1889.1 912.3C1893.8 911.7 1906.2 909.4 1917.1 908.5C1928 907.6 1941.9 906.6 1954.3 906.7C1966.7 906.8 1979.2 907.7 1991.6 909.1C2004 910.5 2022.7 914.1 2028.9 915.1" fill="none" stroke="#080a20" stroke-width="3.8" stroke-linecap="round" stroke-linejoin="round"/>
<path d="M1865.8 946.7C1869.7 945.8 1879 943.2 1889.1 941.2C1899.2 939.2 1914 936 1926.4 934.6C1938.8 933.2 1951.3 932.6 1963.7 932.8C1976.1 933 1990.7 934.5 2000.9 935.6C2011.2 936.7 2021.2 938.7 2025.2 939.3" fill="none" stroke="#080a20" stroke-width="3.8" stroke-linecap="round" stroke-linejoin="round"/>
<path d="M2064.3 921.6C2067.7 922.7 2078.3 925.2 2084.8 928.1C2091.3 931 2099 934.6 2103.5 939.3C2108 944 2111.6 950.8 2111.9 956.1C2112.2 961.4 2109.5 966.6 2105.3 971C2101.1 975.4 2093.2 979.4 2086.7 982.2C2080.2 985 2073 986.1 2066.2 987.8C2059.4 989.5 2049.1 991.6 2045.7 992.4" fill="none" stroke="#080a20" stroke-width="3.8" stroke-linecap="round" stroke-linejoin="round"/>
<path d="M2059.7 948.6C2062 949.1 2070 949.9 2073.6 951.4C2077.2 952.9 2081.1 955.9 2081.1 957.9C2081.1 959.9 2077.9 961.8 2073.6 963.5C2069.2 965.2 2058.1 967.4 2055 968.2" fill="none" stroke="#080a20" stroke-width="3.8" stroke-linecap="round" stroke-linejoin="round"/>
<path d="M2018.7 754.4C2017 759 2012.6 773 2008.4 782.3C2004.2 791.6 1999.1 801.6 1993.5 810.3C1987.9 819 1979.9 828.6 1974.9 834.5C1969.9 840.4 1967.1 842.4 1963.7 845.5C1960.3 848.6 1958 850.5 1954.3 853C1950.6 855.5 1946.7 858.1 1941.3 860.5C1935.9 862.9 1925 866.3 1921.7 867.5" fill="none" stroke="#080a20" stroke-width="3.8" stroke-linecap="round" stroke-linejoin="round"/>
<path d="M1921.7 867.5C1918.8 866.4 1909.3 861.9 1904 861C1898.7 860.1 1892.3 861.8 1890 861.9" fill="none" stroke="#080a20" stroke-width="3.8" stroke-linecap="round" stroke-linejoin="round"/>
<path d="M2032.6 802.8C2029.8 807.1 2021.2 821.4 2015.9 828.9C2010.6 836.4 2008.1 840.5 2000.9 848C1993.8 855.5 1982.3 867 1973 874.1C1963.7 881.2 1949.7 888 1945 890.8" fill="none" stroke="#080a20" stroke-width="3.8" stroke-linecap="round" stroke-linejoin="round"/>
<path d="M1945 890.8C1945.9 893.3 1949.7 903.2 1950.6 905.7" fill="none" stroke="#080a20" stroke-width="3.8" stroke-linecap="round" stroke-linejoin="round"/>
<path d="M617 200L1012 482" fill="none" stroke="#080a20" stroke-width="3.5" stroke-linecap="round" stroke-linejoin="round"/>
<path d="M1524.9 202.2L1116 482.4" fill="none" stroke="#080a20" stroke-width="3.5" stroke-linecap="round" stroke-linejoin="round"/>
<path d="M747.6 204.5L995 431.3" fill="none" stroke="#080a20" stroke-width="4" stroke-linecap="round" stroke-linejoin="round" stroke-dasharray="21.5 16.5"/>
<path d="M1000 439.6L1000 626" fill="none" stroke="#080a20" stroke-width="4.2" stroke-linecap="round" stroke-linejoin="round" stroke-dasharray="26 14"/>
<path d="M1381.9 209.6L1133.8 432" fill="none" stroke="#080a20" stroke-width="4" stroke-linecap="round" stroke-linejoin="round" stroke-dasharray="21.5 16.5"/>
<path d="M1130.5 439.6L1130 626" fill="none" stroke="#080a20" stroke-width="4.2" stroke-linecap="round" stroke-linejoin="round" stroke-dasharray="26 14"/>
<rect x="981.6" y="386" width="172" height="191" fill="none" stroke="#080a20" stroke-width="4.4"/>
<circle cx="1027.5" cy="488" r="17.5" fill="#080a20"/>
<circle cx="1102" cy="488" r="17.5" fill="#080a20"/>
<path d="M1009.3 507.3L1026 533.5L1043.4 507.3" fill="none" stroke="#080a20" stroke-width="4.4" stroke-linecap="butt" stroke-linejoin="round"/>
<path d="M1083 507.3L1101.2 533.5L1117.8 507.3" fill="none" stroke="#080a20" stroke-width="4.4" stroke-linecap="butt" stroke-linejoin="round"/>
<path d="M1026 533.5L1026.5 626" fill="none" stroke="#080a20" stroke-width="4.3" stroke-linecap="round" stroke-linejoin="round"/>
<path d="M1101.2 533.5L1101.5 626" fill="none" stroke="#080a20" stroke-width="4.3" stroke-linecap="round" stroke-linejoin="round"/>
<path d="M1028.3 590.5L1100.4 623.8" fill="none" stroke="#080a20" stroke-width="2.4" stroke-linecap="round" stroke-linejoin="round"/>
<path d="M1100.4 586.6L1028.3 623" fill="none" stroke="#080a20" stroke-width="2.4" stroke-linecap="round" stroke-linejoin="round"/>
<path d="M1027.4 689L1028 905" fill="none" stroke="#080a20" stroke-width="3.8" stroke-linecap="round" stroke-linejoin="round"/>
<path d="M1101.9 689L1101.5 905" fill="none" stroke="#080a20" stroke-width="3.8" stroke-linecap="round" stroke-linejoin="round"/>
<path d="M1000.8 689L1002.5 1090L1003.6 1293" fill="none" stroke="#080a20" stroke-width="4.1" stroke-linecap="round" stroke-linejoin="round" stroke-dasharray="25.9 14.1" stroke-dashoffset="21"/>
<path d="M1129.4 689L1125.2 1090L1123 1293" fill="none" stroke="#080a20" stroke-width="4.1" stroke-linecap="round" stroke-linejoin="round" stroke-dasharray="25 13" stroke-dashoffset="14"/>
<path d="M982.4 752.7L1151.1 752.7L1148.5 1086.8L981.5 1086.4Z" fill="none" stroke="#080a20" stroke-width="3.9" stroke-linecap="round" stroke-linejoin="round"/>
<circle cx="1030.6" cy="927.2" r="24" fill="#080a20"/>
<circle cx="1096.3" cy="927.2" r="24" fill="#080a20"/>
<path d="M1011.3 834.5L1027.4 803.7L1048.3 834.5" fill="none" stroke="#080a20" stroke-width="4.2" stroke-linecap="butt" stroke-linejoin="round"/>
<path d="M1083.3 834.5L1101.9 803.7L1121 834.5" fill="none" stroke="#080a20" stroke-width="4.2" stroke-linecap="butt" stroke-linejoin="round"/>
<path d="M1010.4 952.4L1027.8 980.2L1047.3 952.4" fill="none" stroke="#080a20" stroke-width="4" stroke-linecap="butt" stroke-linejoin="round"/>
<path d="M1083.5 953.7L1100.9 980.2L1119.7 953.7" fill="none" stroke="#080a20" stroke-width="4" stroke-linecap="butt" stroke-linejoin="round"/>
<path d="M1027.8 980.2L1028.8 1293" fill="none" stroke="#080a20" stroke-width="3.8" stroke-linecap="round" stroke-linejoin="round"/>
<path d="M1100.9 980.2L1100.7 1293" fill="none" stroke="#080a20" stroke-width="3.8" stroke-linecap="round" stroke-linejoin="round"/>
<path d="M988.2 971.8L1002.1 991.3L1016 971.8" fill="none" stroke="#080a20" stroke-width="3.8" stroke-linecap="butt" stroke-linejoin="round"/>
<path d="M1112.7 977.4L1127.3 998.3L1141.2 976" fill="none" stroke="#080a20" stroke-width="3.8" stroke-linecap="butt" stroke-linejoin="round"/>
<path d="M1029.3 1356L1030.5 1429.5" fill="none" stroke="#080a20" stroke-width="3.9" stroke-linecap="round" stroke-linejoin="round"/>
<path d="M1101.7 1356L1101.5 1429.5" fill="none" stroke="#080a20" stroke-width="3.9" stroke-linecap="round" stroke-linejoin="round"/>
<path d="M1012.5 1460.2L1030.5 1429.5L1047.4 1460.2" fill="none" stroke="#080a20" stroke-width="4" stroke-linecap="butt" stroke-linejoin="round"/>
<path d="M1083.5 1460.2L1101.5 1429.5L1119.7 1460.2" fill="none" stroke="#080a20" stroke-width="4" stroke-linecap="butt" stroke-linejoin="round"/>
<path d="M1002 1359.6C1001.1 1364.6 999.8 1379.5 996.4 1389.5C993 1399.5 987.7 1410.4 981.5 1419.4C975.3 1428.4 967.2 1437.2 959.1 1443.7C951 1450.2 941 1455.1 932.9 1458.7C924.8 1462.3 914.2 1464.3 910.5 1465.4" fill="none" stroke="#080a20" stroke-width="3.1" stroke-linecap="round" stroke-linejoin="round" stroke-dasharray="15 12"/>
<path d="M1122.8 1355.9C1123.5 1360.9 1124.4 1375.8 1127.3 1385.8C1130.2 1395.8 1134.8 1406.7 1140.4 1415.7C1146 1424.7 1152.5 1433.2 1160.9 1440C1169.3 1446.8 1180.8 1452.8 1190.8 1456.8C1200.8 1460.8 1212 1462.7 1220.7 1464.3C1229.4 1465.9 1239.5 1465.9 1243.2 1466.2" fill="none" stroke="#080a20" stroke-width="3.1" stroke-linecap="round" stroke-linejoin="round" stroke-dasharray="15 12"/>
<circle cx="1030.1" cy="1529.7" r="18" fill="#080a20"/>
<circle cx="1098.1" cy="1530.8" r="18" fill="#080a20"/>
<path d="M1015 1537L916 1587.2" fill="none" stroke="#080a20" stroke-width="4.2" stroke-linecap="round" stroke-linejoin="round"/>
<path d="M879.8 1589.5L916 1587.2L899.3 1615.7" fill="none" stroke="#080a20" stroke-width="4.1" stroke-linecap="round" stroke-linejoin="round"/>
<path d="M1114.2 1537.2L1220.7 1589.5" fill="none" stroke="#080a20" stroke-width="4.2" stroke-linecap="round" stroke-linejoin="round"/>
<path d="M1255.1 1589.5L1220.7 1589.5L1237.6 1619.4" fill="none" stroke="#080a20" stroke-width="4.1" stroke-linecap="round" stroke-linejoin="round"/>
<path d="M908 925.6C890 925.2 843.4 924.7 800 923.5C756.6 922.3 695.9 921 647.6 918.4C599.3 915.8 555.6 912.4 510 908C464.4 903.6 396.5 894.9 373.8 892.3" fill="none" stroke="#080a20" stroke-width="4.1" stroke-linecap="round" stroke-linejoin="round" stroke-dasharray="26 14" stroke-dashoffset="10.4"/>
<path d="M922 925.9L959 925.9" fill="none" stroke="#080a20" stroke-width="4.1" stroke-linecap="round" stroke-linejoin="round"/>
<path d="M621.4 901.5L650.6 918.4L619.9 933.8" fill="none" stroke="#080a20" stroke-width="3.8" stroke-linecap="round" stroke-linejoin="round"/>
<path d="M971.5 906.4L943 925.9L972.9 942.6" fill="none" stroke="#080a20" stroke-width="3.8" stroke-linecap="butt" stroke-linejoin="round"/>
<path d="M1215 927.9C1235 927.8 1290.1 927.8 1335 927C1379.9 926.2 1436.2 925.3 1484.5 923C1532.8 920.7 1577.6 917.4 1625 913C1672.4 908.6 1744.9 899.6 1768.9 896.9" fill="none" stroke="#080a20" stroke-width="4.1" stroke-linecap="round" stroke-linejoin="round" stroke-dasharray="26 14" stroke-dashoffset="30.8"/>
<path d="M1169 928L1201 928" fill="none" stroke="#080a20" stroke-width="4.1" stroke-linecap="round" stroke-linejoin="round"/>
<path d="M1512.1 906.1L1482.9 923L1513.7 938.4" fill="none" stroke="#080a20" stroke-width="3.8" stroke-linecap="round" stroke-linejoin="round"/>
<path d="M1159.3 909.9L1189.9 928L1158.6 945.4" fill="none" stroke="#080a20" stroke-width="3.8" stroke-linecap="butt" stroke-linejoin="round"/>
<path d="M352.3 933.8L615.3 1164.5" fill="none" stroke="#080a20" stroke-width="3.9" stroke-linecap="round" stroke-linejoin="round" stroke-dasharray="26 15"/>
<path d="M532.2 1109.1L566 1123L559.9 1089.1" fill="none" stroke="#080a20" stroke-width="3.7" stroke-linecap="round" stroke-linejoin="round"/>
<path d="M1788.9 940L1516.7 1158.3" fill="none" stroke="#080a20" stroke-width="3.9" stroke-linecap="round" stroke-linejoin="round" stroke-dasharray="26 15"/>
<path d="M1569 1095.3L1553.7 1130.6L1590.6 1119.9" fill="none" stroke="#080a20" stroke-width="3.7" stroke-linecap="round" stroke-linejoin="round"/>
<path d="M1009 936.4L735.2 1186" fill="none" stroke="#080a20" stroke-width="3.6" stroke-linecap="round" stroke-linejoin="round"/>
<path d="M790.6 1110.7L824.4 1104.5L813.6 1138.3" fill="none" stroke="#080a20" stroke-width="3.6" stroke-linecap="round" stroke-linejoin="round"/>
<path d="M949 940L749 1121.4" fill="none" stroke="#080a20" stroke-width="3.9" stroke-linecap="round" stroke-linejoin="round" stroke-dasharray="26 15"/>
<path d="M830.6 1020L826 1050.7L856.7 1041.5" fill="none" stroke="#080a20" stroke-width="3.6" stroke-linecap="round" stroke-linejoin="round"/>
<path d="M1117.9 934.9L1396.8 1186" fill="none" stroke="#080a20" stroke-width="3.6" stroke-linecap="round" stroke-linejoin="round"/>
<path d="M1336.8 1110.7L1304.5 1103L1313.8 1133.7" fill="none" stroke="#080a20" stroke-width="3.6" stroke-linecap="round" stroke-linejoin="round"/>
<path d="M1183.1 943L1375.3 1115.3" fill="none" stroke="#080a20" stroke-width="3.9" stroke-linecap="round" stroke-linejoin="round" stroke-dasharray="26 15"/>
<path d="M1267.6 1036.8L1299.9 1047.6L1292.2 1013.8" fill="none" stroke="#080a20" stroke-width="3.6" stroke-linecap="round" stroke-linejoin="round"/>
<path d="M656.2 1080.6L697.9 1051.4M646.4 1118.9L713.4 1072.1M648.4 1130.1L685.1 1104.4M694.4 1097.9L714.1 1084.1M632.5 1200.9L716.7 1142M635.9 1207.3L650 1197.4M658.7 1191.3L717.8 1149.9" fill="none" stroke="#080a20" stroke-width="1.9" stroke-linecap="round" stroke-linejoin="round"/>
<path d="M661.7 1137.7L717.8 1098.4M660.8 1272.9L734.5 1221.3M665.5 1280.4L707.5 1250.9M712.4 1247.5L741.6 1227.1" fill="none" stroke="#080a20" stroke-width="2" stroke-linecap="round" stroke-linejoin="round"/>
<path d="M657.8 1130.8L722.2 1085.7M710.8 1286.8L758.6 1253.4" fill="none" stroke="#080a20" stroke-width="2.1" stroke-linecap="round" stroke-linejoin="round"/>
<path d="M646.9 1098L710.8 1053.3M647.5 1123L718.8 1073.1M636 1204.4L682.7 1171.6M689.9 1166.6L718.1 1146.9M658.9 1254.2L736.7 1199.7M726.7 1280L738.4 1271.8M748.1 1265L755.9 1259.5" fill="none" stroke="#080a20" stroke-width="2.2" stroke-linecap="round" stroke-linejoin="round"/>
<path d="M633 1175.8L727.7 1109.5M671.2 1225.9L711.5 1197.7M718.6 1192.7L732.8 1182.7M704.6 1285.4L720.5 1274.3M726.9 1269.8L760.5 1246.2" fill="none" stroke="#080a20" stroke-width="2.3" stroke-linecap="round" stroke-linejoin="round"/>
<path d="M651.1 1099.9L669.8 1086.8M677.1 1081.7L707.9 1060.1M650 1102.8L671.4 1087.8M677.8 1083.3L713.4 1058.4M669.1 1282.6L744.6 1229.7M703.2 1288.6L763.3 1246.5" fill="none" stroke="#080a20" stroke-width="2.4" stroke-linecap="round" stroke-linejoin="round"/>
<path d="M668.5 1139.5L720.8 1102.9M668.8 1231.9L735.7 1185.1M667.8 1236.2L690.2 1220.5M698.9 1214.4L737.7 1187.3M663 1260.2L675.5 1251.4M681.2 1247.4L734.1 1210.4" fill="none" stroke="#080a20" stroke-width="2.5" stroke-linecap="round" stroke-linejoin="round"/>
<path d="M644.7 1161.2L697 1124.6M706 1118.3L719.6 1108.8M626.6 1186.2L729.7 1114M667.8 1230.5L736.5 1182.3M661.7 1247.7L677 1237M684.1 1232L735.2 1196.2M698.4 1285L722.6 1268M728.4 1263.9L762 1240.4M733.1 1278.7L744.6 1270.7" fill="none" stroke="#080a20" stroke-width="2.6" stroke-linecap="round" stroke-linejoin="round"/>
<path d="M648.3 1125.6L713.4 1080.1M654 1129.3L664.2 1122.2M668.4 1119.2L716.4 1085.6M643 1209.5L722.9 1153.6M662.8 1275.1L737.9 1222.6M667.6 1274.6L715.2 1241.3M719.6 1238.2L739.7 1224.2" fill="none" stroke="#080a20" stroke-width="2.7" stroke-linecap="round" stroke-linejoin="round"/>
<path d="M654.4 1136.6L663.6 1130.1M672.9 1123.6L718.9 1091.4M633.9 1202.8L644 1195.7M648.2 1192.8L716.9 1144.6M652.8 1212.3L665.8 1203.2M672.8 1198.3L728.9 1158.9M653.5 1215.7L672.9 1202.1M678.1 1198.5L726.6 1164.5M670.6 1222.5L712.9 1192.9M718.2 1189.3L734 1178.2M678.9 1282.6L719.7 1254.1M725.3 1250.2L751.1 1232.1" fill="none" stroke="#080a20" stroke-width="2.8" stroke-linecap="round" stroke-linejoin="round"/>
<path d="M630.3 1180.7L723.5 1115.4M665.9 1239.9L734 1192.2M663.4 1257.3L732 1209.3" fill="none" stroke="#080a20" stroke-width="2.9" stroke-linecap="round" stroke-linejoin="round"/>
<path d="M633.5 1172.2L725.3 1107.9M625.1 1190.4L729 1117.6M628.8 1199.5L685.8 1159.6M694.2 1153.7L726.1 1131.4M685.4 1285.3L702.8 1273.1M706.3 1270.6L755.2 1236.4M692.9 1284.8L761.5 1236.8" fill="none" stroke="#080a20" stroke-width="3" stroke-linecap="round" stroke-linejoin="round"/>
<path d="M659.3 1072.4L691.8 1049.7M655.2 1085.7L661.8 1081.1M670.8 1074.8L707.5 1049.1M661.1 1134.1L721.4 1091.9M644.9 1212.8L688.3 1182.4M695.3 1177.5L723.1 1158M668.2 1217.3L726.9 1176.3M673.3 1216.7L719.2 1184.6M724.4 1180.9L729.5 1177.4M679.8 1285.3L738.7 1244M745.4 1239.3L757.7 1230.7" fill="none" stroke="#080a20" stroke-width="3.1" stroke-linecap="round" stroke-linejoin="round"/>
<path d="M663 1266.4L701.8 1239.2M708.2 1234.7L733.1 1217.3" fill="none" stroke="#080a20" stroke-width="3.2" stroke-linecap="round" stroke-linejoin="round"/>
<path d="M656.4 1076.7L674.1 1064.3M679 1060.9L696.5 1048.6M648.8 1092.9L706.9 1052.2M624.9 1195.3L732.6 1119.9M628.9 1195.1L731.1 1123.6M659.4 1216.7L718.7 1175.2M725.2 1170.6L729.5 1167.6M657.3 1257.5L716.1 1216.4M720.8 1213.1L735.7 1202.6M672.1 1282.8L736.2 1237.9M743.9 1232.5L747.7 1229.9" fill="none" stroke="#080a20" stroke-width="3.3" stroke-linecap="round" stroke-linejoin="round"/>
<path d="M660.7 1141.4L690.4 1120.6M698.5 1114.9L724.5 1096.7M666.6 1215L678.6 1206.6M686 1201.4L728 1172" fill="none" stroke="#080a20" stroke-width="3.4" stroke-linecap="round" stroke-linejoin="round"/>
<path d="M671.2 1229.4L740.3 1187.9" fill="none" stroke="#080a20" stroke-width="1.1" stroke-linecap="round" stroke-linejoin="round"/>
<path d="M653.6 1123.6L682.9 1106M690.2 1101.6L723.6 1081.5M646.4 1157.2L731.6 1106.1M663.7 1241.4L734.6 1198.8M679.6 1291.6L763.6 1241.1" fill="none" stroke="#080a20" stroke-width="1.2" stroke-linecap="round" stroke-linejoin="round"/>
<path d="M654.6 1083L708.9 1050.4M651.8 1118L686 1097.5M693 1093.3L717.6 1078.5M679.4 1284L747.2 1243.3M755.2 1238.4L763.2 1233.7M700.4 1287.4L756.8 1253.5M726.1 1280.6L735.5 1274.9M742.2 1270.9L756.3 1262.5" fill="none" stroke="#080a20" stroke-width="1.3" stroke-linecap="round" stroke-linejoin="round"/>
<path d="M647.4 1103.4L708.6 1066.7M620.2 1197.6L717.9 1138.9M630.5 1213.2L669.8 1189.6M679.8 1183.6L726.9 1155.3M648.5 1211.4L723.6 1166.2M665.7 1224.8L714.9 1195.2M720.2 1192L732.2 1184.8M653.1 1270.8L745.5 1215.3" fill="none" stroke="#080a20" stroke-width="1.4" stroke-linecap="round" stroke-linejoin="round"/>
<path d="M630.6 1182.5L733 1120.9" fill="none" stroke="#080a20" stroke-width="1.5" stroke-linecap="round" stroke-linejoin="round"/>
<path d="M651.9 1132.5L715 1094.6M652.9 1217.7L664.7 1210.6M674.4 1204.8L736.6 1167.4M664.2 1255.1L739.5 1209.9" fill="none" stroke="#080a20" stroke-width="1.6" stroke-linecap="round" stroke-linejoin="round"/>
<path d="M663.4 1140.7L696.9 1120.6M702.7 1117.1L723.6 1104.5M627.1 1201.3L635.1 1196.4M643.7 1191.3L721.2 1144.7" fill="none" stroke="#080a20" stroke-width="1.7" stroke-linecap="round" stroke-linejoin="round"/>
<path d="M628.3 1207.7L716.4 1154.8M671 1214.3L736.2 1175.1M659.9 1279.3L742.9 1229.4" fill="none" stroke="#080a20" stroke-width="1.8" stroke-linecap="round" stroke-linejoin="round"/>
<path d="M661.1 1072.8L704.7 1046.6M649.6 1092.6L715.5 1053M656.1 1253.3L666.1 1247.3M670.2 1244.8L733.5 1206.8" fill="none" stroke="#080a20" stroke-width="1.9" stroke-linecap="round" stroke-linejoin="round"/>
<path d="M635 1171.1L725.7 1116.6M665.9 1269.4L748.8 1219.6" fill="none" stroke="#080a20" stroke-width="2" stroke-linecap="round" stroke-linejoin="round"/>
<path d="M736.7 1133.7C737.2 1131.1 740.3 1123.4 739.8 1118.3C739.3 1113.2 736.5 1106.6 733.7 1103C730.9 1099.4 724.7 1097.8 722.9 1096.8" fill="none" stroke="#080a20" stroke-width="3.3" stroke-linecap="round" stroke-linejoin="round"/>
<path d="M722.9 1096.8C723.4 1093.2 726.5 1082 726 1075.3C725.5 1068.6 723.1 1061.7 719.8 1056.8C716.5 1051.9 710.9 1048.4 706 1046.1C701.1 1043.8 696.2 1042.5 690.6 1043C685 1043.5 678.4 1045.2 672.2 1049.1C666.1 1052.9 658.6 1059.7 653.7 1066.1C648.8 1072.5 645.2 1080.4 642.9 1087.6C640.6 1094.8 639.6 1102.4 639.9 1109.1C640.2 1115.8 641.2 1122.7 644.5 1127.6C647.8 1132.5 657.3 1136.5 659.9 1138.3" fill="none" stroke="#080a20" stroke-width="3.3" stroke-linecap="round" stroke-linejoin="round"/>
<path d="M659.9 1138.3C656.8 1140.3 647.3 1145.7 641.4 1150.6C635.5 1155.5 628.6 1161.1 624.5 1167.5C620.4 1173.9 617.3 1182.4 616.8 1189.1C616.3 1195.8 618.3 1202.4 621.4 1207.5C624.5 1212.6 629.8 1217.2 635.2 1219.8C640.6 1222.4 648.6 1221.6 653.7 1222.9C658.8 1224.2 664 1226.7 666 1227.5" fill="none" stroke="#080a20" stroke-width="3.3" stroke-linecap="round" stroke-linejoin="round"/>
<path d="M666 1227.5C664 1229.8 656.8 1236 653.7 1241.4C650.6 1246.8 648.1 1253.7 647.6 1259.8C647.1 1265.9 648.1 1273.2 650.6 1278.3C653.1 1283.4 657.8 1287.5 662.9 1290.6C668 1293.7 674.2 1295.9 681.4 1296.7C688.6 1297.5 697.8 1297.2 706 1295.2C714.2 1293.2 722.9 1288.8 730.6 1284.4C738.3 1280 746.5 1274.1 752.1 1269C757.7 1263.9 762.4 1256.2 764.4 1253.7" fill="none" stroke="#080a20" stroke-width="3.3" stroke-linecap="round" stroke-linejoin="round"/>
<path d="M1414.2 1136.2L1421.8 1130.5M1429.3 1124.9L1459.3 1102.2M1462.8 1099.6L1482.7 1084.6M1386.2 1251.9L1394.6 1245.5M1403.1 1239.2L1411.5 1232.9M1429.4 1219.3L1496.3 1168.9M1409.3 1277.2L1417.1 1271.4M1424.8 1265.5L1455.8 1242.2M1459.4 1239.5L1475.5 1227.4M1480.9 1223.3L1500.2 1208.7" fill="none" stroke="#080a20" stroke-width="1.9" stroke-linecap="round" stroke-linejoin="round"/>
<path d="M1390.7 1130.6L1398 1125.1M1412.6 1114.1L1471 1070.1M1393.3 1179L1401 1173.2M1424.1 1155.8L1478 1115.2M1400.2 1266.3L1503.5 1188.4" fill="none" stroke="#080a20" stroke-width="2" stroke-linecap="round" stroke-linejoin="round"/>
<path d="M1412.2 1103.8L1467.3 1062.3M1411.7 1106.7L1435.8 1088.6M1439.6 1085.7L1470.1 1062.7M1415.7 1151L1483 1100.3M1397.6 1182.5L1405.3 1176.6M1413 1170.8L1482.5 1118.4M1416.3 1235.1L1502.1 1170.4" fill="none" stroke="#080a20" stroke-width="2.1" stroke-linecap="round" stroke-linejoin="round"/>
<path d="M1422.4 1124.5L1429.7 1118.9M1437.5 1113L1481.6 1079.9M1406.5 1139.5L1481.1 1083.3M1405.1 1164L1484.7 1104M1415.6 1213.8L1490.7 1157.2" fill="none" stroke="#080a20" stroke-width="2.2" stroke-linecap="round" stroke-linejoin="round"/>
<path d="M1413.6 1069.3L1422.6 1062.6M1430.1 1056.9L1442 1047.9M1408.4 1087.9L1415.6 1082.4M1422.8 1077L1451.7 1055.2M1405.6 1272.3L1413.1 1266.7M1428.1 1255.4L1503 1198.9M1450.6 1292.9L1463 1283.6M1472.6 1276.4L1476.8 1273.2" fill="none" stroke="#080a20" stroke-width="2.3" stroke-linecap="round" stroke-linejoin="round"/>
<path d="M1412.3 1098.4L1465.7 1058.1M1412.9 1101L1470.8 1057.4M1408.8 1177.3L1438.6 1154.9M1445.7 1149.5L1475.3 1127.2M1407.5 1181.5L1415.1 1175.7M1422.7 1170L1476.1 1129.7M1422.8 1289L1477.7 1247.6" fill="none" stroke="#080a20" stroke-width="2.4" stroke-linecap="round" stroke-linejoin="round"/>
<path d="M1386.1 1141.3L1393.3 1135.8M1422.5 1113.8L1473.5 1075.4M1410.8 1185L1476.4 1135.6M1390.8 1240.1L1398.4 1234.4M1413.5 1223L1496.4 1160.5M1417.9 1222.9L1494.5 1165.1" fill="none" stroke="#080a20" stroke-width="2.5" stroke-linecap="round" stroke-linejoin="round"/>
<path d="M1412.1 1067.2L1428.4 1054.9M1418.4 1156.3L1480.2 1109.7M1408.6 1215.1L1478.7 1162.3M1482.6 1159.4L1488.5 1154.9M1423.8 1255.7L1504.5 1194.8M1408.9 1282.8L1474.3 1233.5M1489 1222.4L1497.5 1216M1445.1 1293.4L1479.2 1267.8" fill="none" stroke="#080a20" stroke-width="2.6" stroke-linecap="round" stroke-linejoin="round"/>
<path d="M1405.4 1130.1L1412.7 1124.6M1420 1119.1L1478.4 1075.1M1412.8 1140.7L1479.9 1090.1M1405.9 1173.3L1480.8 1116.9M1402.1 1257.9L1409.7 1252.2M1417.2 1246.5L1424.8 1240.8M1432.1 1235.3L1503.6 1181.4" fill="none" stroke="#080a20" stroke-width="2.7" stroke-linecap="round" stroke-linejoin="round"/>
<path d="M1409.9 1078.2L1437.5 1057.4M1446.5 1050.6L1448.6 1049M1419.5 1193.9L1482.8 1146.2M1417.5 1199.5L1486.7 1147.3M1412.8 1272.1L1420.6 1266.2M1428.5 1260.2L1475.6 1224.7M1475.9 1224.5L1508.1 1200.2M1420.1 1281.8L1443.7 1264.1M1451.7 1258L1474.2 1241.1M1421.1 1285.2L1477.6 1242.7" fill="none" stroke="#080a20" stroke-width="2.8" stroke-linecap="round" stroke-linejoin="round"/>
<path d="M1421.3 1066.6L1429.5 1060.4M1437.9 1054.1L1443.7 1049.7M1409.1 1121.3L1416.9 1115.4M1432.4 1103.7L1471.3 1074.3M1411.1 1192.5L1419 1186.5M1426.9 1180.6L1442.7 1168.7M1447.1 1165.4L1477.9 1142.2M1412.1 1220.1L1494 1158.3M1404.6 1253.7L1411.9 1248.2M1422.6 1240.1L1503.7 1179M1425.3 1289.3L1449.2 1271.3M1458.8 1264.1L1477.8 1249.8" fill="none" stroke="#080a20" stroke-width="2.9" stroke-linecap="round" stroke-linejoin="round"/>
<path d="M1404.1 1200.6L1478.7 1144.3" fill="none" stroke="#080a20" stroke-width="3" stroke-linecap="round" stroke-linejoin="round"/>
<path d="M1405.4 1101L1413.9 1094.6M1422.4 1088.2L1439.4 1075.4M1445.2 1071L1464 1056.9M1396.2 1157L1483.2 1091.4M1416.7 1281.8L1474 1238.7M1437.1 1293.4L1460.4 1275.9M1467.4 1270.6L1479.4 1261.6" fill="none" stroke="#080a20" stroke-width="3.1" stroke-linecap="round" stroke-linejoin="round"/>
<path d="M1415.5 1085.1L1453.3 1056.6M1395.1 1124.2L1472.7 1065.7M1415.3 1186.1L1422.6 1180.7M1429.9 1175.2L1473.4 1142.4M1421.7 1246.9L1488.1 1196.9M1492.3 1193.7L1505.5 1183.7M1440.1 1293.7L1477.3 1265.6" fill="none" stroke="#080a20" stroke-width="3.2" stroke-linecap="round" stroke-linejoin="round"/>
<path d="M1399.7 1158.4L1406.9 1153M1414.1 1147.6L1464.5 1109.6M1473.1 1103.1L1480.6 1097.5M1401.2 1216.5L1485.1 1153.3M1406.6 1239.4L1414.8 1233.1M1423.5 1226.6L1497.6 1170.8M1422 1235.6L1445.8 1217.8M1451.1 1213.7L1502.1 1175.3M1433.8 1245.3L1501.7 1194.2M1432.8 1287.1L1475.3 1255M1429.8 1294.2L1476.6 1258.9M1453.7 1293.8L1474.1 1278.4" fill="none" stroke="#080a20" stroke-width="3.3" stroke-linecap="round" stroke-linejoin="round"/>
<path d="M1413.2 1090.2L1459.1 1055.6" fill="none" stroke="#080a20" stroke-width="3.4" stroke-linecap="round" stroke-linejoin="round"/>
<path d="M1388.4 1223.8L1491.9 1156.6" fill="none" stroke="#080a20" stroke-width="1.1" stroke-linecap="round" stroke-linejoin="round"/>
<path d="M1390.5 1130.9L1471.3 1078.4M1412.5 1279.5L1422 1273.3M1429.4 1268.5L1480.9 1235.1" fill="none" stroke="#080a20" stroke-width="1.2" stroke-linecap="round" stroke-linejoin="round"/>
<path d="M1404 1076.5L1441.5 1052.1M1402.2 1269.1L1430.5 1250.6M1435.2 1247.6L1501.7 1204.4M1419.1 1282.7L1473.8 1247.2" fill="none" stroke="#080a20" stroke-width="1.3" stroke-linecap="round" stroke-linejoin="round"/>
<path d="M1382.5 1128.6L1468.4 1072.8M1382.4 1161.4L1438.2 1125.1M1442.2 1122.5L1489.4 1091.8M1384.1 1176.6L1486.4 1110.1M1392.1 1181.4L1401.9 1175.1M1409.1 1170.4L1478.2 1125.5M1395.6 1203.6L1408.8 1195.1M1416.2 1190.2L1478.3 1149.9" fill="none" stroke="#080a20" stroke-width="1.4" stroke-linecap="round" stroke-linejoin="round"/>
<path d="M1384.5 1153.5L1432 1122.7M1440.1 1117.4L1476.1 1094.1M1400.1 1225.2L1502.2 1158.9M1390 1255L1486.3 1192.5M1494.4 1187.2L1504.8 1180.4M1437.7 1289L1473.4 1265.8" fill="none" stroke="#080a20" stroke-width="1.5" stroke-linecap="round" stroke-linejoin="round"/>
<path d="M1387.1 1241.2L1498.2 1169" fill="none" stroke="#080a20" stroke-width="1.6" stroke-linecap="round" stroke-linejoin="round"/>
<path d="M1402.2 1096.2L1470.9 1051.6M1386.9 1167.9L1411.4 1152.1M1415.3 1149.5L1477.7 1109M1389.5 1191.6L1474.6 1136.3M1380.4 1254.7L1403.3 1239.8M1408.2 1236.6L1509.3 1171" fill="none" stroke="#080a20" stroke-width="1.7" stroke-linecap="round" stroke-linejoin="round"/>
<path d="M1393.9 1259.2L1461.8 1215.1M1469.7 1209.9L1509.1 1184.4M1405.8 1275.1L1472.8 1231.6M1489.6 1220.7L1500.2 1213.8" fill="none" stroke="#080a20" stroke-width="1.8" stroke-linecap="round" stroke-linejoin="round"/>
<path d="M1383.7 1143.9L1464.5 1091.4M1469.6 1088.1L1484.6 1078.3M1386.9 1272.2L1501.7 1197.7" fill="none" stroke="#080a20" stroke-width="1.9" stroke-linecap="round" stroke-linejoin="round"/>
<path d="M1400.3 1107.2L1414.7 1097.9M1422 1093.1L1476.1 1058M1449.3 1294.7L1480.4 1274.5" fill="none" stroke="#080a20" stroke-width="2" stroke-linecap="round" stroke-linejoin="round"/>
<path d="M1387.6 1121.4C1387.8 1118.8 1387.3 1110.1 1389.1 1106C1390.9 1101.9 1394.7 1098.6 1398.3 1096.8C1401.9 1095 1408.5 1095.5 1410.6 1095.3" fill="none" stroke="#080a20" stroke-width="3.3" stroke-linecap="round" stroke-linejoin="round"/>
<path d="M1410.6 1095.3C1409.3 1093 1404 1086.8 1403 1081.4C1402 1076 1402.5 1068.4 1404.5 1063C1406.5 1057.6 1410.7 1052.4 1415.3 1049.1C1419.9 1045.8 1425.8 1043.2 1432.2 1043C1438.6 1042.8 1446.8 1044.3 1453.7 1047.6C1460.6 1050.9 1468.1 1056.8 1473.7 1063C1479.3 1069.2 1484.2 1077.3 1487.5 1084.5C1490.8 1091.7 1493.7 1098.8 1493.7 1106C1493.7 1113.2 1490.6 1121.9 1487.5 1127.6C1484.4 1133.2 1477.2 1137.9 1475.2 1139.9" fill="none" stroke="#080a20" stroke-width="3.3" stroke-linecap="round" stroke-linejoin="round"/>
<path d="M1475.2 1139.9C1478.3 1142 1488.1 1146.6 1493.7 1152.2C1499.3 1157.8 1505.8 1166.5 1509.1 1173.7C1512.4 1180.9 1514 1188.5 1513.7 1195.2C1513.4 1201.9 1511.3 1208.6 1507.5 1213.7C1503.7 1218.8 1496.5 1223.4 1490.6 1226C1484.7 1228.6 1475.3 1228.6 1472.2 1229.1" fill="none" stroke="#080a20" stroke-width="3.3" stroke-linecap="round" stroke-linejoin="round"/>
<path d="M1472.2 1229.1C1473.7 1231.6 1479.1 1238.8 1481.4 1244.4C1483.7 1250 1486.3 1256.8 1486 1262.9C1485.7 1269.1 1483.1 1275.9 1479.8 1281.3C1476.5 1286.7 1471.4 1292 1466 1295.2C1460.6 1298.4 1454.2 1300.2 1447.5 1300.4C1440.8 1300.7 1433.2 1299.4 1426 1296.7C1418.8 1294 1411.2 1289.5 1404.5 1284.4C1397.8 1279.3 1390.9 1272.2 1386 1266C1381.1 1259.8 1377.1 1250.6 1375.3 1247.5" fill="none" stroke="#080a20" stroke-width="3.3" stroke-linecap="round" stroke-linejoin="round"/>
<path d="M829.3 1665.8L842.1 1689.9M846.4 1697.9L850.6 1706M854.9 1714L859.2 1722M863.4 1730L867.7 1738.1M876.2 1754.1L880.5 1762.2M889 1778.2L893.3 1786.2M897.6 1794.3L901.8 1802.3" fill="none" stroke="#080a20" stroke-width="1.8" stroke-linecap="round" stroke-linejoin="round"/>
<path d="M870.4 1454.2L892.3 1495.3M788 1430.4L847.6 1542.6M781 1428.6L849 1556.6M718.9 1423L827.6 1627.6M832 1635.8L836.3 1643.9M840.7 1652.1L853.7 1676.7M858.1 1684.9L862.4 1693M864.8 1697.4L873.4 1713.7M877.7 1721.8L895.1 1754.4M712.2 1419.6L831 1643M839.5 1659L856.4 1690.9M864.9 1706.9L873.4 1722.9M877.7 1730.8L881.9 1738.8M886.2 1746.8L894.6 1762.8M711.4 1423.1L725.4 1449.4M730.2 1458.5L824.1 1635M828.4 1643L849.7 1683.1M854 1691.2L871 1723.3M875.3 1731.3L883.8 1747.3M888.1 1755.4L892.4 1763.4" fill="none" stroke="#080a20" stroke-width="1.9" stroke-linecap="round" stroke-linejoin="round"/>
<path d="M871.3 1461.9L877.5 1473.6M880.9 1479.9L890.7 1498.4M826.9 1452.1L861.3 1516.7M799.2 1439.8L805.3 1451.3M809.7 1459.6L840.9 1518.4M763.4 1424.9L859.7 1606.1" fill="none" stroke="#080a20" stroke-width="2" stroke-linecap="round" stroke-linejoin="round"/>
<path d="M853.1 1456.3L858.6 1466.7M860.9 1471L874.2 1496M757.9 1426.9L857.5 1614.3M859.8 1618.7L867.9 1633.8M741.9 1431L873.7 1678.8" fill="none" stroke="#080a20" stroke-width="2.1" stroke-linecap="round" stroke-linejoin="round"/>
<path d="M876.3 1451.4L886.5 1470.7M889 1475.3L894.2 1485.2" fill="none" stroke="#080a20" stroke-width="2.2" stroke-linecap="round" stroke-linejoin="round"/>
<path d="M850.5 1455.7L872.8 1497.8M773.6 1427.2L853.5 1577.5M747 1430.4L867.2 1656.3M871.5 1664.4L884.3 1688.6M855.8 1730.6L864.4 1746.8M873 1763L877.3 1771.1M890.2 1795.4L894.5 1803.5" fill="none" stroke="#080a20" stroke-width="2.3" stroke-linecap="round" stroke-linejoin="round"/>
<path d="M795.8 1438.2L847.5 1535.4M720.8 1419.2L726.9 1430.7M730.9 1438.1L860.4 1681.8M869 1698L877.7 1714.2" fill="none" stroke="#080a20" stroke-width="2.4" stroke-linecap="round" stroke-linejoin="round"/>
<path d="M885.5 1460.4L902.1 1491.6M812.9 1442.9L846.6 1506.3M850.3 1513.4L854.9 1521.9M713.7 1417.9L842.2 1659.6M846.5 1667.7L855.1 1683.8M860.4 1693.9L869.7 1711.4M874.4 1720.1L883.7 1737.6M888.3 1746.3L893 1755.1" fill="none" stroke="#080a20" stroke-width="2.5" stroke-linecap="round" stroke-linejoin="round"/>
<path d="M816 1440.3L854.9 1513.4M810.7 1444.8L850 1518.9M896.9 1835.4L901.2 1843.6" fill="none" stroke="#080a20" stroke-width="2.6" stroke-linecap="round" stroke-linejoin="round"/>
<path d="M886.1 1456.4L890.2 1464.1M892.3 1468.1L901.3 1485M863.5 1458.5L870.2 1471.3M874.2 1478.8L881 1491.6M804 1440.7L846.9 1521.4M764 1433.8L834.9 1567.1M837.9 1572.8L863.7 1621.4M747.1 1421.9L782 1487.6M785.4 1493.9L868.7 1650.7M873.1 1659L877.5 1667.2M731.5 1418.9L803.3 1554.1M808.8 1564.4L857.6 1656.1M866.4 1672.8L879.7 1697.8M725.7 1422.6L751 1470.1M753.6 1475.1L865.6 1685.6M869.9 1693.7L874.2 1701.8M882.8 1718L887.1 1726.1M791.6 1587L805.2 1612.6M807.5 1616.9L811.9 1625.1M816.3 1633.4L855.9 1707.9M860.3 1716.2L873.5 1741M877.9 1749.3L882.3 1757.6M891.1 1774.1L895.5 1782.4M843.2 1699.4L847.9 1708.1M861.7 1734.2L871 1751.6M875.6 1760.3L880.2 1769M896 1798.7L900.4 1806.8" fill="none" stroke="#080a20" stroke-width="2.7" stroke-linecap="round" stroke-linejoin="round"/>
<path d="M907.1 1465L910.6 1471.6M861.3 1460.7L884.5 1504.4M843 1456L859.2 1486.4M863.1 1493.7L868.5 1503.9M765.6 1424.8L849.1 1581.8M851.5 1586.4L855.9 1594.7M729.6 1421.2L838.1 1625.2M842.4 1633.4L846.7 1641.6M851.1 1649.7L881.5 1706.8M885.8 1715L890.1 1723.2M859.8 1742.7L865.3 1753.2M884 1788.3L894 1807" fill="none" stroke="#080a20" stroke-width="2.8" stroke-linecap="round" stroke-linejoin="round"/>
<path d="M781.9 1435.7L805.9 1480.7M807.8 1484.3L849.4 1562.6M748.8 1420.9L865.4 1640.3M869.8 1648.4L878.4 1664.7M741.8 1425.2L871.4 1668.9M875.7 1677.1L884.4 1693.3M705.9 1417.7L808 1609.8M816.5 1625.8L833.6 1657.8M837.8 1665.8L859.1 1705.8M863.4 1713.8L871.9 1729.8M875 1735.7L879.9 1744.9" fill="none" stroke="#080a20" stroke-width="2.9" stroke-linecap="round" stroke-linejoin="round"/>
<path d="M897.7 1463.6L906.1 1479.4M862.2 1451.3L870.7 1467.3M875.9 1477.1L884.8 1493.8M848.7 1457.9L869.9 1497.7M833.8 1447.5L850 1478M853.2 1484L867.3 1510.5" fill="none" stroke="#080a20" stroke-width="3" stroke-linecap="round" stroke-linejoin="round"/>
<path d="M876.5 1459.5L895 1494.4M827.5 1445.8L836 1461.6M840.8 1470.7L863.1 1512.7" fill="none" stroke="#080a20" stroke-width="3.1" stroke-linecap="round" stroke-linejoin="round"/>
<path d="M894.5 1464.2L907.7 1489.1M829 1444.5L838.2 1461.7M840.8 1466.6L862.2 1507M772.3 1429.8L852.2 1580.1M754.6 1426.3L788.7 1490.5M790.7 1494.3L856.7 1618.4M861.1 1626.6L865.5 1634.9M869.9 1643.2L874.3 1651.4" fill="none" stroke="#080a20" stroke-width="3.2" stroke-linecap="round" stroke-linejoin="round"/>
<path d="M894.4 1459.2L909 1490.3M863 1456.4L879.6 1491.9" fill="none" stroke="#080a20" stroke-width="1.1" stroke-linecap="round" stroke-linejoin="round"/>
<path d="M818 1436.3L839.7 1482.8M843.7 1491.4L858.9 1524.1" fill="none" stroke="#080a20" stroke-width="1.2" stroke-linecap="round" stroke-linejoin="round"/>
<path d="M779 1434.3L862.7 1613.9" fill="none" stroke="#080a20" stroke-width="1.3" stroke-linecap="round" stroke-linejoin="round"/>
<path d="M853.5 1448L882.2 1509.6M832.1 1442.2L864.5 1511.8M830.6 1448.7L858.2 1508M765.8 1433L851.8 1617.5M855.4 1625.3L885.3 1689.2M756.1 1424.6L891.2 1714.5M708.9 1425.4L731.6 1474.2M882.7 1798.2L897.8 1830.6" fill="none" stroke="#080a20" stroke-width="1.4" stroke-linecap="round" stroke-linejoin="round"/>
<path d="M865 1445.5L885.8 1490.2M735.6 1422.8L897.6 1770.2" fill="none" stroke="#080a20" stroke-width="1.5" stroke-linecap="round" stroke-linejoin="round"/>
<path d="M871.1 1448.2L893.9 1497.2M850.5 1455L871.9 1500.8M843.4 1450.7L866.5 1500.3M770.3 1428.1L874.5 1651.4M745.6 1429.6L892.7 1745M723.9 1418.7L896.1 1788" fill="none" stroke="#080a20" stroke-width="1.6" stroke-linecap="round" stroke-linejoin="round"/>
<path d="M785.3 1434.6L824.4 1518.6M827 1524L849.9 1573.3" fill="none" stroke="#080a20" stroke-width="1.7" stroke-linecap="round" stroke-linejoin="round"/>
<path d="M715.9 1427.1L773.7 1551.1M842.1 1697.9L872.8 1763.7M875.2 1768.7L901.3 1824.7" fill="none" stroke="#080a20" stroke-width="1.8" stroke-linecap="round" stroke-linejoin="round"/>
<path d="M883.2 1448.1L901.2 1486.8M885.2 1462.7L900.2 1494.8M809.3 1440.5L850.3 1528.5" fill="none" stroke="#080a20" stroke-width="1.9" stroke-linecap="round" stroke-linejoin="round"/>
<path d="M902.1 1461.6L912.7 1484.3M814.6 1441.4L824.8 1463.3M827 1468L850.2 1517.8M747.6 1420.2L886.8 1718.7M728.1 1416.5L898.4 1781.8M721.7 1429.7L905.3 1823.4" fill="none" stroke="#080a20" stroke-width="2" stroke-linecap="round" stroke-linejoin="round"/>
<path d="M1336.8 1480.7L1309.8 1547.6" fill="none" stroke="#080a20" stroke-width="1.8" stroke-linecap="round" stroke-linejoin="round"/>
<path d="M1331.1 1484.5L1316.8 1520M1315 1524.3L1311.4 1533.3M1300.7 1466.4L1286.4 1501.8M1277.2 1458.5L1265.5 1487.6" fill="none" stroke="#080a20" stroke-width="1.9" stroke-linecap="round" stroke-linejoin="round"/>
<path d="M1433 1487.9L1409 1547.3M1406.9 1552.6L1404.5 1558.5M1389.2 1480.2L1331.1 1624M1326.8 1634.5L1316.5 1660.2M1313 1668.8L1302.6 1694.5M1386.4 1480.6L1343.1 1587.8M1339.5 1596.8L1322 1640.1M1315 1657.4L1308 1674.7M1368.4 1485.7L1311.7 1625.9M1324.5 1466.9L1303.9 1517.9" fill="none" stroke="#080a20" stroke-width="2" stroke-linecap="round" stroke-linejoin="round"/>
<path d="M1429.8 1480.5L1377.2 1610.5M1300.3 1801L1296.5 1810.4M1401.2 1478.7L1333.1 1647.3M1329.7 1655.7L1309.2 1706.2M1305.8 1714.7L1302.4 1723.1M1382.5 1473.9L1361.2 1526.6M1356.9 1537.2L1311.5 1649.7M1316.2 1464.8L1312.7 1473.4M1311.2 1477.2L1296.9 1512.7M1256.9 1477.4L1253.1 1486.8" fill="none" stroke="#080a20" stroke-width="2.1" stroke-linecap="round" stroke-linejoin="round"/>
<path d="M1416.9 1484.7L1362.3 1619.7M1360.5 1624.3L1328.8 1702.7M1325.3 1711.4L1318.2 1728.9M1311.2 1746.3L1300.6 1772.4M1293.6 1789.9L1290.1 1798.6M1395.4 1479.4L1317.2 1673M1313.8 1681.4L1300.2 1715.1M1352.1 1483.4L1347.4 1495.1M1344 1503.4L1316.4 1571.9" fill="none" stroke="#080a20" stroke-width="2.2" stroke-linecap="round" stroke-linejoin="round"/>
<path d="M1404.8 1474.5L1333.1 1652M1329.7 1660.4L1326.3 1668.9M1322.8 1677.3L1316 1694.2M1312.6 1702.7L1309.2 1711.1M1305.8 1719.6L1302.4 1728M1289.3 1467.4L1276.8 1498.3M1275.1 1458L1262.1 1490.2" fill="none" stroke="#080a20" stroke-width="2.3" stroke-linecap="round" stroke-linejoin="round"/>
<path d="M1432.7 1484L1421.5 1511.9M1417 1523L1393.2 1581.9M1424.7 1486.2L1365.5 1632.7M1318.6 1748.7L1313.4 1761.7M1307.8 1775.5L1304 1784.9M1300.2 1794.3L1292.7 1813M1354.8 1484.6L1339.1 1523.5M1335.6 1532.2L1313.5 1586.8M1316.4 1478.4L1299 1521.3M1304.4 1466.1L1295.7 1487.6M1292.4 1495.9L1284.7 1514.9" fill="none" stroke="#080a20" stroke-width="2.4" stroke-linecap="round" stroke-linejoin="round"/>
<path d="M1328.3 1476.2L1319.6 1497.6M1317 1504.1L1306.4 1530.3M1325.7 1469.7L1317.1 1491M1314.7 1496.9L1304.3 1522.7" fill="none" stroke="#080a20" stroke-width="2.5" stroke-linecap="round" stroke-linejoin="round"/>
<path d="M1425.1 1479.9L1356.6 1649.5M1330.2 1714.7L1323.3 1731.8M1302.6 1783.1L1295.7 1800.2M1374.4 1475.9L1334.4 1575M1332.6 1579.5L1315.6 1621.4M1352 1476.6L1348 1486.4M1344.5 1495.2L1316.7 1564.1M1328.2 1471.4L1317.2 1498.5M1315.1 1503.8L1307.6 1522.3M1298.4 1467.5L1283.6 1504.1M1294 1461.4L1280.3 1495.2" fill="none" stroke="#080a20" stroke-width="2.6" stroke-linecap="round" stroke-linejoin="round"/>
<path d="M1394.8 1474L1305.1 1695.9M1386.2 1473.2L1308.1 1666.5M1363.2 1482.4L1321.1 1586.5M1317.4 1595.9L1314.9 1601.9M1357 1488.6L1324.1 1570.1M1321.9 1575.4L1317 1587.6M1307 1468L1301.6 1481.4M1298.4 1489.3L1287.3 1516.9M1283.5 1462.8L1275.1 1483.4M1271.1 1493.5L1267.7 1501.8" fill="none" stroke="#080a20" stroke-width="2.7" stroke-linecap="round" stroke-linejoin="round"/>
<path d="M1412.2 1479.1L1344.2 1647.2M1337.4 1664.1L1323.8 1697.7M1320.4 1706.1L1296.7 1764.9M1404.5 1482.3L1324.8 1679.4M1317.9 1696.6L1311 1713.7M1398.8 1479.7L1306.7 1707.6M1303.3 1716L1299.9 1724.4M1340.1 1483L1331.2 1505.1M1328.4 1512L1310.6 1556M1279.2 1464.3L1268.7 1490.1" fill="none" stroke="#080a20" stroke-width="2.8" stroke-linecap="round" stroke-linejoin="round"/>
<path d="M1407.7 1482.9L1332.4 1669.3M1328.9 1677.8L1315.3 1711.7M1301.6 1745.6L1298.1 1754.1M1294.7 1762.6L1291.3 1771.1M1342.5 1486L1311.2 1563.4M1311.6 1470.9L1306 1484.6M1304.5 1488.5L1295.3 1511.3M1286.6 1466.4L1272.6 1501M1265 1467.4L1254 1494.5" fill="none" stroke="#080a20" stroke-width="2.9" stroke-linecap="round" stroke-linejoin="round"/>
<path d="M1331.2 1478.3L1321.9 1501.2M1317.6 1511.8L1308.3 1534.8" fill="none" stroke="#080a20" stroke-width="3" stroke-linecap="round" stroke-linejoin="round"/>
<path d="M1367.2 1482L1318.1 1603.7" fill="none" stroke="#080a20" stroke-width="3.1" stroke-linecap="round" stroke-linejoin="round"/>
<path d="M1422.9 1477.7L1341 1680.7M1337.6 1689.1L1327.3 1714.5M1320.5 1731.4L1300 1782.1M1297.9 1463.9L1289.5 1484.7M1287.6 1489.4L1282.6 1501.8M1274.3 1452.4L1265 1475.4M1261.1 1485.1L1259.6 1488.7" fill="none" stroke="#080a20" stroke-width="3.2" stroke-linecap="round" stroke-linejoin="round"/>
<path d="M1413.7 1466L1284 1842.7M1255.8 1472.4L1247.9 1495.5" fill="none" stroke="#080a20" stroke-width="1.1" stroke-linecap="round" stroke-linejoin="round"/>
<path d="M1381 1482.8L1332.1 1625M1329.4 1632.9L1303 1709.4M1372.3 1476.8L1305.8 1669.8M1316.5 1461.6L1295.7 1522M1289.1 1465.3L1277.9 1497.8" fill="none" stroke="#080a20" stroke-width="1.2" stroke-linecap="round" stroke-linejoin="round"/>
<path d="M1416.5 1472.3L1349.2 1667.9M1349.4 1475L1313.6 1578.9M1332.8 1469.6L1306.3 1546.7M1277.1 1446.2L1263.8 1484.9" fill="none" stroke="#080a20" stroke-width="1.3" stroke-linecap="round" stroke-linejoin="round"/>
<path d="M1428.1 1492.8L1405.3 1558.8M1424 1487.7L1386.6 1596.4" fill="none" stroke="#080a20" stroke-width="1.4" stroke-linecap="round" stroke-linejoin="round"/>
<path d="M1362.4 1485.8L1313.4 1628.1M1339.4 1487L1311.8 1567.2M1303.1 1466.1L1287.6 1511.1" fill="none" stroke="#080a20" stroke-width="1.5" stroke-linecap="round" stroke-linejoin="round"/>
<path d="M1407 1468.3L1284.8 1823M1391.3 1472.7L1296.6 1747.8M1307.1 1475.1L1294.5 1511.7M1268.1 1455.2L1254.2 1495.4" fill="none" stroke="#080a20" stroke-width="1.6" stroke-linecap="round" stroke-linejoin="round"/>
<path d="M1395.1 1475.1L1292.5 1773M1379.7 1472.3L1302.3 1697M1336.8 1478.3L1312.7 1548.3M1285.9 1460.4L1275.1 1491.9" fill="none" stroke="#080a20" stroke-width="1.7" stroke-linecap="round" stroke-linejoin="round"/>
<path d="M1322 1466.2L1298.4 1534.6" fill="none" stroke="#080a20" stroke-width="1.8" stroke-linecap="round" stroke-linejoin="round"/>
<path d="M1423.9 1469.7L1373.8 1615.1M1397.8 1481.3L1287 1803.1M1358 1484.8L1318.2 1600.2M1282.1 1452L1273.1 1478M1269.5 1488.4L1266.6 1496.9" fill="none" stroke="#080a20" stroke-width="1.9" stroke-linecap="round" stroke-linejoin="round"/>
<path d="M1398.3 1437.9L1352 1560" fill="none" stroke="#080a20" stroke-width="1.4" stroke-linecap="round" stroke-linejoin="round"/>
<path d="M1439 1425.3L1392 1550" fill="none" stroke="#080a20" stroke-width="1.6" stroke-linecap="round" stroke-linejoin="round"/>
<path d="M1426 1448L1300 1760" fill="none" stroke="#080a20" stroke-width="1.3" stroke-linecap="round" stroke-linejoin="round"/>
<path d="M1318 1575L1281 1872" fill="none" stroke="#080a20" stroke-width="1.2" stroke-linecap="round" stroke-linejoin="round"/>
<path d="M715 1440L800 1640" fill="none" stroke="#080a20" stroke-width="1.3" stroke-linecap="round" stroke-linejoin="round"/>
<path d="M712 1452L862 1772" fill="none" stroke="#080a20" stroke-width="1.2" stroke-linecap="round" stroke-linejoin="round"/>
<path d="M870 1730L901 1867" fill="none" stroke="#080a20" stroke-width="1.3" stroke-linecap="round" stroke-linejoin="round"/>
<path d="M852 1640L885 1690" fill="none" stroke="#080a20" stroke-width="1.2" stroke-linecap="round" stroke-linejoin="round"/>
<g font-family="'Liberation Serif', 'Times New Roman', serif" fill="#080a20">
<text x="1014" y="139.2" font-size="46" textLength="95" lengthAdjust="spacingAndGlyphs">Eyes</text>
<text x="949" y="286.5" font-size="46" textLength="239.5" lengthAdjust="spacingAndGlyphs">Oculomotor</text>
<text x="1003.5" y="347" font-size="46" textLength="130.5" lengthAdjust="spacingAndGlyphs">Nuclei</text>
<text x="782.5" y="675.3" font-size="47" transform="rotate(-0.3 782.5 675.3)" textLength="593" lengthAdjust="spacingAndGlyphs">Vestibular Nuclei (Brainstem)</text>
<text x="2164" y="972" font-size="46" textLength="200" lengthAdjust="spacingAndGlyphs">Vestibular</text>
<text x="2193" y="1032.5" font-size="46" textLength="139" lengthAdjust="spacingAndGlyphs">Organs</text>
<text x="1540.2" y="1283.3" font-size="46" textLength="230.5" lengthAdjust="spacingAndGlyphs">Cerebellum</text>
<text x="941.7" y="1338.2" font-size="46" textLength="238" lengthAdjust="spacingAndGlyphs">Spinal Cord</text>
<text x="313" y="1497" font-size="46" transform="rotate(-0.65 313 1497)" textLength="352.5" lengthAdjust="spacingAndGlyphs">Stretch Receptors</text>
<text x="1012.7" y="1610.2" font-size="46" textLength="107.5" lengthAdjust="spacingAndGlyphs">Limb</text>
<text x="1033" y="1669.3" font-size="46" textLength="69" lengthAdjust="spacingAndGlyphs">and</text>
<text x="919.5" y="1730" font-size="46" textLength="296" lengthAdjust="spacingAndGlyphs">Trunk Muscles</text>
</g>
</svg>
</body></html>
